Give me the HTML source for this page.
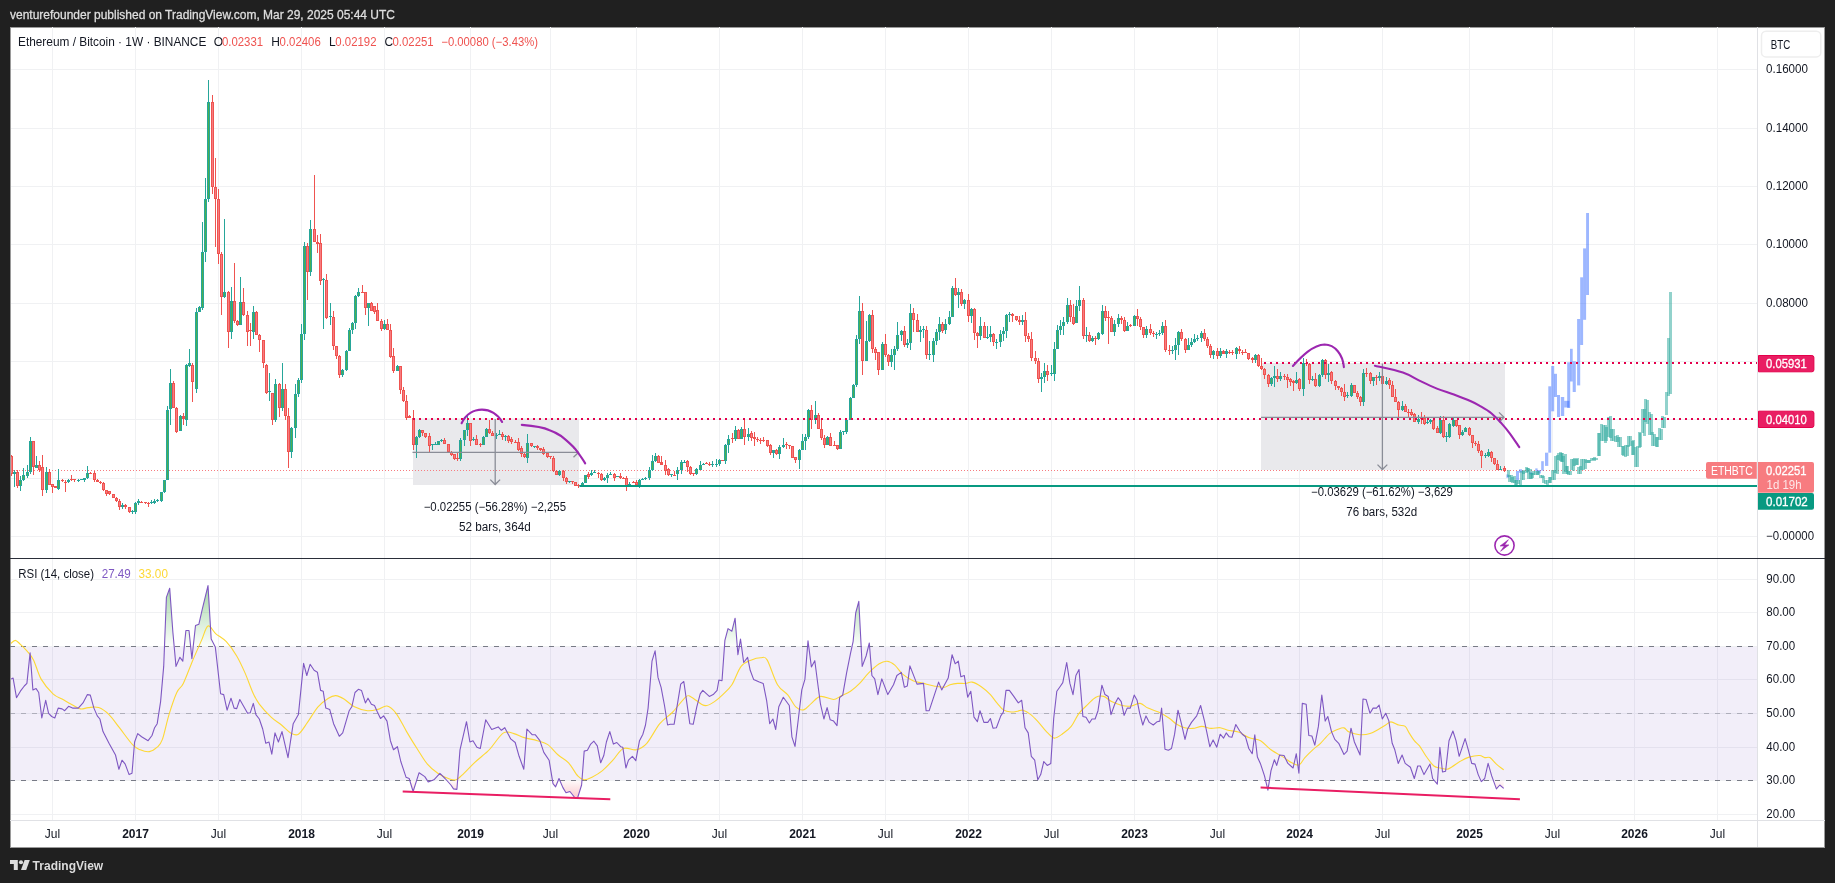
<!DOCTYPE html>
<html><head><meta charset="utf-8"><title>ETHBTC</title><style>
html,body{margin:0;padding:0;width:1835px;height:883px;overflow:hidden;background:#202020;font-family:"Liberation Sans",sans-serif;}
svg{position:absolute;left:0;top:0;display:block;will-change:transform;}
</style></head><body>
<svg width="1835" height="883" viewBox="0 0 1835 883" font-family="Liberation Sans, sans-serif" font-size="12">
<defs>
<linearGradient id="gOB" x1="0" y1="580" x2="0" y2="646.4" gradientUnits="userSpaceOnUse"><stop offset="0" stop-color="#4caf50" stop-opacity="0.55"/><stop offset="1" stop-color="#4caf50" stop-opacity="0.02"/></linearGradient>
<linearGradient id="gOS" x1="0" y1="780.2" x2="0" y2="800" gradientUnits="userSpaceOnUse"><stop offset="0" stop-color="#f23645" stop-opacity="0.02"/><stop offset="1" stop-color="#f23645" stop-opacity="0.3"/></linearGradient>
<clipPath id="cA"><rect x="10" y="560" width="1747" height="86.1"/></clipPath>
<clipPath id="cB"><rect x="10" y="780.5" width="1747" height="40"/></clipPath>
<clipPath id="cMain"><rect x="11" y="28" width="1746" height="530"/></clipPath>
<clipPath id="cRsi"><rect x="11" y="559" width="1746" height="261"/></clipPath>
</defs>
<text x="10" y="18.7" fill="#dedede" stroke="#dedede" stroke-width="0.3" font-size="12.5" textLength="385" lengthAdjust="spacingAndGlyphs">venturefounder published on TradingView.com, Mar 29, 2025 05:44 UTC</text>
<rect x="10" y="27" width="1815" height="821" fill="#9a9a9a"/><rect x="11" y="28" width="1813" height="819" fill="#ffffff"/>
<g stroke="#f0f1f3" stroke-width="1" shape-rendering="crispEdges">
<line x1="52.5" y1="27" x2="52.5" y2="558" />
<line x1="52.5" y1="559" x2="52.5" y2="820" />
<line x1="135.5" y1="27" x2="135.5" y2="558" />
<line x1="135.5" y1="559" x2="135.5" y2="820" />
<line x1="218.5" y1="27" x2="218.5" y2="558" />
<line x1="218.5" y1="559" x2="218.5" y2="820" />
<line x1="301.5" y1="27" x2="301.5" y2="558" />
<line x1="301.5" y1="559" x2="301.5" y2="820" />
<line x1="384.5" y1="27" x2="384.5" y2="558" />
<line x1="384.5" y1="559" x2="384.5" y2="820" />
<line x1="470.5" y1="27" x2="470.5" y2="558" />
<line x1="470.5" y1="559" x2="470.5" y2="820" />
<line x1="550.5" y1="27" x2="550.5" y2="558" />
<line x1="550.5" y1="559" x2="550.5" y2="820" />
<line x1="636.5" y1="27" x2="636.5" y2="558" />
<line x1="636.5" y1="559" x2="636.5" y2="820" />
<line x1="719.5" y1="27" x2="719.5" y2="558" />
<line x1="719.5" y1="559" x2="719.5" y2="820" />
<line x1="802.5" y1="27" x2="802.5" y2="558" />
<line x1="802.5" y1="559" x2="802.5" y2="820" />
<line x1="885.5" y1="27" x2="885.5" y2="558" />
<line x1="885.5" y1="559" x2="885.5" y2="820" />
<line x1="968.5" y1="27" x2="968.5" y2="558" />
<line x1="968.5" y1="559" x2="968.5" y2="820" />
<line x1="1051.5" y1="27" x2="1051.5" y2="558" />
<line x1="1051.5" y1="559" x2="1051.5" y2="820" />
<line x1="1134.5" y1="27" x2="1134.5" y2="558" />
<line x1="1134.5" y1="559" x2="1134.5" y2="820" />
<line x1="1217.5" y1="27" x2="1217.5" y2="558" />
<line x1="1217.5" y1="559" x2="1217.5" y2="820" />
<line x1="1299.5" y1="27" x2="1299.5" y2="558" />
<line x1="1299.5" y1="559" x2="1299.5" y2="820" />
<line x1="1382.5" y1="27" x2="1382.5" y2="558" />
<line x1="1382.5" y1="559" x2="1382.5" y2="820" />
<line x1="1469.5" y1="27" x2="1469.5" y2="558" />
<line x1="1469.5" y1="559" x2="1469.5" y2="820" />
<line x1="1552.5" y1="27" x2="1552.5" y2="558" />
<line x1="1552.5" y1="559" x2="1552.5" y2="820" />
<line x1="1634.5" y1="27" x2="1634.5" y2="558" />
<line x1="1634.5" y1="559" x2="1634.5" y2="820" />
<line x1="1717.5" y1="27" x2="1717.5" y2="558" />
<line x1="1717.5" y1="559" x2="1717.5" y2="820" />
<line x1="11" y1="536.5" x2="1757" y2="536.5" />
<line x1="11" y1="478.5" x2="1757" y2="478.5" />
<line x1="11" y1="419.5" x2="1757" y2="419.5" />
<line x1="11" y1="361.5" x2="1757" y2="361.5" />
<line x1="11" y1="303.5" x2="1757" y2="303.5" />
<line x1="11" y1="244.5" x2="1757" y2="244.5" />
<line x1="11" y1="186.5" x2="1757" y2="186.5" />
<line x1="11" y1="128.5" x2="1757" y2="128.5" />
<line x1="11" y1="69.5" x2="1757" y2="69.5" />
<line x1="11" y1="579.5" x2="1757" y2="579.5" />
<line x1="11" y1="612.5" x2="1757" y2="612.5" />
<line x1="11" y1="646.5" x2="1757" y2="646.5" />
<line x1="11" y1="679.5" x2="1757" y2="679.5" />
<line x1="11" y1="713.5" x2="1757" y2="713.5" />
<line x1="11" y1="747.5" x2="1757" y2="747.5" />
<line x1="11" y1="780.5" x2="1757" y2="780.5" />
<line x1="11" y1="814.5" x2="1757" y2="814.5" />
</g>
<!-- RSI band -->
<rect x="11" y="647" width="1746" height="133" fill="rgba(126,87,194,0.1)"/>
<g stroke="#787b86" stroke-width="1" stroke-dasharray="5 6" shape-rendering="crispEdges">
<line x1="10" y1="646.5" x2="1757" y2="646.5"/>
<line x1="10" y1="713.5" x2="1757" y2="713.5" stroke-opacity="0.5"/>
<line x1="10" y1="780.5" x2="1757" y2="780.5"/>
</g>
<g clip-path="url(#cRsi)">
<polygon points="10.0,646.4 10.0,679.4 13.1,678.1 16.5,697.7 20.4,691.2 24.3,686.0 26.9,683.4 30.1,652.9 32.9,689.9 36.1,688.6 38.7,692.5 41.8,718.0 45.7,700.3 48.6,713.3 51.7,716.5 54.8,718.0 58.2,708.1 62.1,708.9 64.7,710.7 68.6,706.3 72.5,708.1 78.3,708.1 83.0,702.9 87.4,694.6 90.3,695.1 93.9,708.1 97.3,715.9 99.9,719.0 103.0,731.6 109.0,743.3 115.5,755.0 118.9,769.3 122.0,760.2 125.2,764.1 129.1,774.6 132.0,773.3 134.6,742.0 137.7,733.6 141.6,736.8 148.1,740.7 152.0,735.5 154.6,727.7 157.2,723.7 160.6,701.6 163.7,666.4 166.4,597.4 169.7,588.2 172.9,632.5 176.0,666.4 179.9,657.3 182.8,661.2 185.9,630.5 189.0,630.5 191.9,658.6 195.5,625.5 198.9,624.2 202.3,609.1 208.0,585.6 211.2,639.1 215.3,646.9 220.6,693.8 223.7,694.6 227.1,710.2 231.0,698.2 234.1,708.1 236.7,708.6 239.8,699.5 243.2,705.5 247.6,713.3 250.2,712.8 253.3,703.4 255.9,714.6 259.3,719.0 262.7,729.0 265.8,743.3 269.0,742.0 271.8,754.2 275.0,732.9 278.4,742.0 282.0,731.6 288.0,757.6 293.2,723.7 298.4,714.6 303.6,663.3 306.8,675.5 310.1,664.3 314.1,670.3 317.4,672.2 320.6,690.4 323.2,691.2 325.8,708.1 329.7,709.4 333.6,723.7 339.3,736.3 342.7,732.9 349.2,710.7 351.8,706.8 355.0,692.5 358.4,689.3 361.5,690.4 365.4,702.9 368.0,698.2 371.4,704.2 374.5,705.5 377.4,712.0 380.5,718.5 383.6,715.9 387.0,721.1 390.4,740.7 393.5,749.8 397.4,746.7 400.8,761.5 406.0,777.2 409.2,778.5 413.1,791.5 419.1,772.7 424.8,776.6 428.2,781.9 433.9,779.8 439.9,773.3 445.1,778.5 450.9,785.0 453.5,788.9 456.9,789.4 460.0,749.8 466.5,721.7 469.9,742.0 473.0,740.7 476.9,747.2 480.3,748.5 485.7,719.8 491.7,729.5 498.2,726.9 501.4,730.3 504.8,727.7 510.7,738.9 515.2,742.5 519.1,756.3 523.8,769.3 526.9,729.0 532.1,734.7 535.2,734.7 539.9,740.7 543.8,752.4 549.1,760.2 553.0,783.7 555.6,786.8 559.0,778.5 562.9,787.6 566.0,792.8 569.9,791.5 575.1,798.0 577.7,797.5 581.6,785.0 584.2,751.1 587.4,750.3 590.7,744.1 593.9,741.2 597.3,745.9 600.7,762.8 603.8,755.5 606.4,742.0 609.8,731.6 613.4,744.1 616.8,742.5 620.7,746.7 622.8,747.2 625.9,768.0 628.5,760.2 632.4,756.3 635.8,760.7 639.5,740.7 642.9,734.2 645.5,725.0 648.1,708.1 652.0,661.2 655.1,650.8 658.0,677.4 661.1,687.3 664.5,705.5 667.6,725.0 670.2,724.3 674.1,724.3 680.7,684.1 683.8,681.5 689.8,723.7 693.2,724.3 696.8,706.8 700.2,693.8 702.8,690.4 709.3,696.4 713.2,694.6 717.1,690.4 718.9,680.0 722.0,680.7 724.9,640.4 728.0,628.6 731.9,631.2 735.1,618.2 737.9,654.7 740.5,639.1 743.7,662.5 747.6,657.3 750.2,670.3 753.6,679.4 759.3,682.1 763.2,683.4 766.6,700.3 769.7,723.7 772.9,719.0 775.7,729.5 778.8,706.8 783.3,697.2 789.3,705.5 791.9,736.8 795.0,746.4 798.4,718.5 801.8,689.9 804.9,679.4 808.0,640.9 811.4,666.9 814.8,660.7 817.9,684.7 820.5,704.2 823.9,719.0 827.1,707.6 830.2,719.8 833.6,721.1 837.0,725.6 839.6,697.7 842.7,695.1 846.6,672.9 850.5,653.4 853.1,641.7 855.7,613.0 858.8,601.3 862.2,666.4 866.1,656.0 869.3,643.0 871.9,675.5 874.7,678.9 877.9,694.6 881.8,678.9 887.8,694.6 893.5,684.7 896.9,675.5 901.3,672.4 904.4,687.3 907.3,686.0 909.9,665.9 917.0,684.1 923.5,683.4 926.1,710.7 929.2,710.7 933.9,696.4 938.6,682.1 941.7,689.9 948.2,678.1 952.1,654.7 955.2,663.8 958.3,661.2 960.9,676.8 964.3,675.5 967.7,697.2 970.8,691.2 974.0,717.2 977.4,721.7 980.0,710.7 983.9,722.4 987.8,722.4 990.4,718.5 993.0,728.2 996.4,727.7 1000.8,715.9 1003.4,712.0 1006.0,690.4 1009.4,690.4 1013.8,696.4 1018.3,702.9 1021.7,700.3 1025.0,727.7 1028.2,732.9 1031.3,756.3 1034.7,760.2 1037.8,779.8 1040.7,774.6 1043.8,761.5 1047.2,765.4 1050.8,763.4 1053.7,718.5 1056.8,691.2 1060.0,686.7 1062.8,682.6 1066.7,662.5 1069.9,683.4 1073.0,694.6 1075.9,675.5 1079.0,669.5 1082.9,716.5 1086.0,717.2 1089.4,723.0 1092.0,719.0 1095.1,719.0 1098.0,710.7 1101.9,685.2 1105.0,694.6 1108.2,696.4 1111.0,714.6 1114.7,704.2 1118.1,697.7 1121.2,701.6 1124.1,715.4 1127.2,708.1 1130.3,708.1 1134.2,695.1 1137.1,700.3 1139.7,713.3 1142.8,725.0 1146.0,715.9 1149.3,722.4 1153.3,725.0 1157.2,721.7 1159.8,721.1 1161.6,708.1 1165.0,749.3 1168.4,750.3 1171.5,748.5 1174.6,734.2 1178.0,710.2 1181.4,723.7 1185.0,739.4 1187.6,729.0 1191.5,722.4 1196.7,715.9 1200.6,705.5 1204.5,721.1 1209.8,746.7 1213.1,739.9 1216.8,747.2 1220.2,734.2 1223.6,738.1 1226.2,732.9 1229.3,736.8 1231.9,737.3 1235.8,724.5 1239.7,731.0 1242.3,734.2 1245.5,736.8 1248.8,748.5 1252.2,753.7 1254.8,734.7 1257.4,757.1 1260.6,764.1 1264.5,775.9 1267.9,790.2 1271.0,770.6 1274.4,759.7 1276.7,765.4 1279.6,755.0 1284.0,755.5 1287.9,763.4 1293.1,768.0 1296.3,753.7 1298.9,773.3 1302.3,703.4 1306.2,704.2 1308.8,735.5 1311.9,736.0 1314.8,745.1 1318.4,726.4 1321.8,695.1 1325.2,721.1 1327.8,716.5 1331.5,731.6 1334.8,739.4 1338.7,743.3 1344.0,754.5 1347.1,751.1 1351.0,728.2 1354.4,742.0 1360.1,755.0 1363.0,699.0 1366.1,699.5 1370.0,713.3 1373.1,708.1 1376.5,708.1 1379.1,705.0 1382.3,719.0 1385.7,713.3 1388.8,720.6 1392.2,743.3 1394.8,749.8 1398.2,763.4 1402.1,755.0 1405.2,763.4 1410.4,767.3 1414.3,778.5 1417.7,766.0 1420.3,766.0 1424.0,774.6 1430.0,764.1 1432.6,778.5 1437.3,784.2 1439.9,747.2 1442.5,772.0 1445.6,771.2 1449.0,740.7 1452.9,731.0 1456.0,740.7 1459.2,756.3 1465.1,738.6 1468.3,749.8 1471.7,763.4 1475.0,764.1 1478.2,774.6 1481.3,781.6 1484.7,778.5 1488.1,763.4 1491.7,775.9 1496.4,788.9 1499.8,785.0 1503.7,788.4 1503.7,646.4" fill="url(#gOB)" clip-path="url(#cA)"/>
<polygon points="10.0,646.4 10.0,679.4 13.1,678.1 16.5,697.7 20.4,691.2 24.3,686.0 26.9,683.4 30.1,652.9 32.9,689.9 36.1,688.6 38.7,692.5 41.8,718.0 45.7,700.3 48.6,713.3 51.7,716.5 54.8,718.0 58.2,708.1 62.1,708.9 64.7,710.7 68.6,706.3 72.5,708.1 78.3,708.1 83.0,702.9 87.4,694.6 90.3,695.1 93.9,708.1 97.3,715.9 99.9,719.0 103.0,731.6 109.0,743.3 115.5,755.0 118.9,769.3 122.0,760.2 125.2,764.1 129.1,774.6 132.0,773.3 134.6,742.0 137.7,733.6 141.6,736.8 148.1,740.7 152.0,735.5 154.6,727.7 157.2,723.7 160.6,701.6 163.7,666.4 166.4,597.4 169.7,588.2 172.9,632.5 176.0,666.4 179.9,657.3 182.8,661.2 185.9,630.5 189.0,630.5 191.9,658.6 195.5,625.5 198.9,624.2 202.3,609.1 208.0,585.6 211.2,639.1 215.3,646.9 220.6,693.8 223.7,694.6 227.1,710.2 231.0,698.2 234.1,708.1 236.7,708.6 239.8,699.5 243.2,705.5 247.6,713.3 250.2,712.8 253.3,703.4 255.9,714.6 259.3,719.0 262.7,729.0 265.8,743.3 269.0,742.0 271.8,754.2 275.0,732.9 278.4,742.0 282.0,731.6 288.0,757.6 293.2,723.7 298.4,714.6 303.6,663.3 306.8,675.5 310.1,664.3 314.1,670.3 317.4,672.2 320.6,690.4 323.2,691.2 325.8,708.1 329.7,709.4 333.6,723.7 339.3,736.3 342.7,732.9 349.2,710.7 351.8,706.8 355.0,692.5 358.4,689.3 361.5,690.4 365.4,702.9 368.0,698.2 371.4,704.2 374.5,705.5 377.4,712.0 380.5,718.5 383.6,715.9 387.0,721.1 390.4,740.7 393.5,749.8 397.4,746.7 400.8,761.5 406.0,777.2 409.2,778.5 413.1,791.5 419.1,772.7 424.8,776.6 428.2,781.9 433.9,779.8 439.9,773.3 445.1,778.5 450.9,785.0 453.5,788.9 456.9,789.4 460.0,749.8 466.5,721.7 469.9,742.0 473.0,740.7 476.9,747.2 480.3,748.5 485.7,719.8 491.7,729.5 498.2,726.9 501.4,730.3 504.8,727.7 510.7,738.9 515.2,742.5 519.1,756.3 523.8,769.3 526.9,729.0 532.1,734.7 535.2,734.7 539.9,740.7 543.8,752.4 549.1,760.2 553.0,783.7 555.6,786.8 559.0,778.5 562.9,787.6 566.0,792.8 569.9,791.5 575.1,798.0 577.7,797.5 581.6,785.0 584.2,751.1 587.4,750.3 590.7,744.1 593.9,741.2 597.3,745.9 600.7,762.8 603.8,755.5 606.4,742.0 609.8,731.6 613.4,744.1 616.8,742.5 620.7,746.7 622.8,747.2 625.9,768.0 628.5,760.2 632.4,756.3 635.8,760.7 639.5,740.7 642.9,734.2 645.5,725.0 648.1,708.1 652.0,661.2 655.1,650.8 658.0,677.4 661.1,687.3 664.5,705.5 667.6,725.0 670.2,724.3 674.1,724.3 680.7,684.1 683.8,681.5 689.8,723.7 693.2,724.3 696.8,706.8 700.2,693.8 702.8,690.4 709.3,696.4 713.2,694.6 717.1,690.4 718.9,680.0 722.0,680.7 724.9,640.4 728.0,628.6 731.9,631.2 735.1,618.2 737.9,654.7 740.5,639.1 743.7,662.5 747.6,657.3 750.2,670.3 753.6,679.4 759.3,682.1 763.2,683.4 766.6,700.3 769.7,723.7 772.9,719.0 775.7,729.5 778.8,706.8 783.3,697.2 789.3,705.5 791.9,736.8 795.0,746.4 798.4,718.5 801.8,689.9 804.9,679.4 808.0,640.9 811.4,666.9 814.8,660.7 817.9,684.7 820.5,704.2 823.9,719.0 827.1,707.6 830.2,719.8 833.6,721.1 837.0,725.6 839.6,697.7 842.7,695.1 846.6,672.9 850.5,653.4 853.1,641.7 855.7,613.0 858.8,601.3 862.2,666.4 866.1,656.0 869.3,643.0 871.9,675.5 874.7,678.9 877.9,694.6 881.8,678.9 887.8,694.6 893.5,684.7 896.9,675.5 901.3,672.4 904.4,687.3 907.3,686.0 909.9,665.9 917.0,684.1 923.5,683.4 926.1,710.7 929.2,710.7 933.9,696.4 938.6,682.1 941.7,689.9 948.2,678.1 952.1,654.7 955.2,663.8 958.3,661.2 960.9,676.8 964.3,675.5 967.7,697.2 970.8,691.2 974.0,717.2 977.4,721.7 980.0,710.7 983.9,722.4 987.8,722.4 990.4,718.5 993.0,728.2 996.4,727.7 1000.8,715.9 1003.4,712.0 1006.0,690.4 1009.4,690.4 1013.8,696.4 1018.3,702.9 1021.7,700.3 1025.0,727.7 1028.2,732.9 1031.3,756.3 1034.7,760.2 1037.8,779.8 1040.7,774.6 1043.8,761.5 1047.2,765.4 1050.8,763.4 1053.7,718.5 1056.8,691.2 1060.0,686.7 1062.8,682.6 1066.7,662.5 1069.9,683.4 1073.0,694.6 1075.9,675.5 1079.0,669.5 1082.9,716.5 1086.0,717.2 1089.4,723.0 1092.0,719.0 1095.1,719.0 1098.0,710.7 1101.9,685.2 1105.0,694.6 1108.2,696.4 1111.0,714.6 1114.7,704.2 1118.1,697.7 1121.2,701.6 1124.1,715.4 1127.2,708.1 1130.3,708.1 1134.2,695.1 1137.1,700.3 1139.7,713.3 1142.8,725.0 1146.0,715.9 1149.3,722.4 1153.3,725.0 1157.2,721.7 1159.8,721.1 1161.6,708.1 1165.0,749.3 1168.4,750.3 1171.5,748.5 1174.6,734.2 1178.0,710.2 1181.4,723.7 1185.0,739.4 1187.6,729.0 1191.5,722.4 1196.7,715.9 1200.6,705.5 1204.5,721.1 1209.8,746.7 1213.1,739.9 1216.8,747.2 1220.2,734.2 1223.6,738.1 1226.2,732.9 1229.3,736.8 1231.9,737.3 1235.8,724.5 1239.7,731.0 1242.3,734.2 1245.5,736.8 1248.8,748.5 1252.2,753.7 1254.8,734.7 1257.4,757.1 1260.6,764.1 1264.5,775.9 1267.9,790.2 1271.0,770.6 1274.4,759.7 1276.7,765.4 1279.6,755.0 1284.0,755.5 1287.9,763.4 1293.1,768.0 1296.3,753.7 1298.9,773.3 1302.3,703.4 1306.2,704.2 1308.8,735.5 1311.9,736.0 1314.8,745.1 1318.4,726.4 1321.8,695.1 1325.2,721.1 1327.8,716.5 1331.5,731.6 1334.8,739.4 1338.7,743.3 1344.0,754.5 1347.1,751.1 1351.0,728.2 1354.4,742.0 1360.1,755.0 1363.0,699.0 1366.1,699.5 1370.0,713.3 1373.1,708.1 1376.5,708.1 1379.1,705.0 1382.3,719.0 1385.7,713.3 1388.8,720.6 1392.2,743.3 1394.8,749.8 1398.2,763.4 1402.1,755.0 1405.2,763.4 1410.4,767.3 1414.3,778.5 1417.7,766.0 1420.3,766.0 1424.0,774.6 1430.0,764.1 1432.6,778.5 1437.3,784.2 1439.9,747.2 1442.5,772.0 1445.6,771.2 1449.0,740.7 1452.9,731.0 1456.0,740.7 1459.2,756.3 1465.1,738.6 1468.3,749.8 1471.7,763.4 1475.0,764.1 1478.2,774.6 1481.3,781.6 1484.7,778.5 1488.1,763.4 1491.7,775.9 1496.4,788.9 1499.8,785.0 1503.7,788.4 1503.7,646.4" fill="url(#gOS)" clip-path="url(#cB)"/>
<path d="M10.0,644.3 C10.9,643.6 13.5,640.4 15.2,640.4 C16.9,640.4 18.4,642.6 20.4,644.3 C22.3,646.0 24.7,648.2 26.9,650.8 C29.1,653.4 31.1,655.1 33.5,659.9 C35.9,664.7 38.0,673.8 41.3,679.4 C44.5,685.0 49.5,690.5 53.0,693.8 C56.5,697.1 59.1,697.3 62.1,699.0 C65.1,700.7 68.2,702.6 71.2,704.2 C74.2,705.9 77.6,708.3 80.4,708.9 C83.2,709.5 85.2,707.8 88.2,707.6 C91.2,707.4 95.1,706.4 98.6,707.6 C102.1,708.8 105.5,711.2 109.0,714.6 C112.5,718.0 115.5,722.7 119.4,727.7 C123.3,732.7 129.0,740.9 132.5,744.6 C136.0,748.3 137.5,748.6 140.3,749.8 C143.1,751.0 146.6,752.0 149.4,751.6 C152.2,751.2 155.0,749.2 157.2,747.2 C159.4,745.2 160.4,744.8 162.4,739.4 C164.4,734.0 166.6,722.4 169.0,714.6 C171.4,706.8 174.4,697.7 176.8,692.5 C179.2,687.3 180.7,688.6 183.3,683.4 C185.9,678.2 189.4,668.4 192.4,661.2 C195.4,654.0 198.9,646.3 201.5,640.4 C204.1,634.5 205.6,627.1 208.0,626.0 C210.4,624.9 212.8,631.2 215.9,633.8 C219.0,636.4 222.8,638.0 226.3,641.7 C229.8,645.4 233.6,650.8 236.7,656.0 C239.8,661.2 242.3,666.8 245.0,672.9 C247.7,679.0 250.4,687.3 252.8,692.5 C255.2,697.7 256.2,700.1 259.3,704.2 C262.4,708.3 267.4,713.7 271.1,717.2 C274.8,720.7 278.2,722.4 281.5,725.0 C284.8,727.6 287.8,731.4 290.6,732.9 C293.4,734.4 295.6,736.0 298.4,734.2 C301.2,732.5 304.2,727.0 307.5,722.4 C310.8,717.8 314.5,710.8 318.0,706.8 C321.5,702.8 325.4,700.1 328.4,698.2 C331.3,696.3 333.1,695.5 335.7,695.6 C338.3,695.7 340.9,697.1 344.0,699.0 C347.1,700.9 350.5,704.8 354.4,706.8 C358.3,708.8 363.6,710.3 367.5,710.7 C371.4,711.1 374.6,710.2 377.9,709.4 C381.1,708.6 384.0,705.4 387.0,706.0 C390.0,706.6 392.8,709.0 396.1,713.3 C399.4,717.6 403.1,725.7 406.6,731.6 C410.1,737.5 413.5,743.1 417.0,748.5 C420.5,753.9 423.9,760.0 427.4,764.1 C430.9,768.2 434.3,770.9 437.8,773.3 C441.3,775.7 445.2,777.4 448.3,778.5 C451.4,779.6 453.5,780.7 456.1,779.8 C458.7,778.9 460.9,776.1 463.9,773.3 C466.9,770.5 470.8,766.1 474.3,762.8 C477.8,759.5 482.3,756.1 485.0,753.7 C487.7,751.3 487.3,752.0 490.4,748.5 C493.5,745.0 499.6,735.4 503.5,732.9 C507.4,730.4 510.4,732.8 513.9,733.6 C517.4,734.4 520.4,736.4 524.3,737.6 C528.2,738.8 533.4,739.5 537.3,740.7 C541.2,741.9 544.3,742.2 547.8,744.6 C551.3,747.0 554.7,752.0 558.2,755.0 C561.7,758.0 565.4,759.3 568.6,762.8 C571.9,766.3 575.1,773.1 577.7,775.9 C580.3,778.7 581.8,779.6 584.2,779.8 C586.6,780.0 589.0,778.7 592.0,777.2 C595.0,775.7 599.0,773.4 602.5,770.6 C606.0,767.8 609.4,763.9 612.9,760.2 C616.4,756.5 619.4,750.2 623.3,748.5 C627.2,746.8 632.5,750.7 636.4,749.8 C640.3,748.9 642.9,747.6 646.8,743.3 C650.7,738.9 655.5,728.9 659.8,723.7 C664.1,718.5 668.4,716.5 672.8,712.0 C677.1,707.5 682.8,699.4 685.9,696.9 C689.0,694.4 688.5,695.7 691.1,696.9 C693.7,698.1 698.9,702.8 701.5,704.2 C704.1,705.6 704.5,705.9 706.7,705.5 C708.9,705.1 711.8,703.4 714.5,701.6 C717.2,699.8 719.9,697.4 722.8,694.6 C725.7,691.8 728.8,689.4 731.9,684.7 C735.0,680.0 737.8,670.5 741.1,666.4 C744.4,662.3 748.2,661.3 751.5,659.9 C754.8,658.5 758.0,657.8 760.6,657.8 C763.2,657.8 764.3,655.4 767.1,659.9 C769.9,664.4 774.0,678.8 777.5,684.7 C781.0,690.6 785.0,691.4 788.0,695.1 C791.0,698.8 793.2,704.3 795.8,706.8 C798.4,709.3 801.0,710.5 803.6,709.9 C806.2,709.3 808.6,705.6 811.4,703.4 C814.2,701.1 816.8,697.0 820.5,696.4 C824.2,695.8 830.3,699.5 833.6,699.5 C836.9,699.5 837.3,697.8 840.1,696.4 C842.9,695.0 847.2,693.4 850.5,691.2 C853.8,689.0 856.6,686.5 859.6,683.4 C862.6,680.3 865.4,676.2 868.7,672.9 C872.0,669.6 876.2,665.8 879.2,663.8 C882.2,661.8 884.4,661.0 887.0,661.2 C889.6,661.4 892.2,662.9 894.8,665.1 C897.4,667.3 899.6,671.6 902.6,674.2 C905.6,676.8 909.5,679.2 913.0,680.7 C916.5,682.2 920.0,682.5 923.5,683.4 C927.0,684.3 930.4,685.4 933.9,686.0 C937.4,686.6 941.6,687.5 944.3,687.3 C947.0,687.1 947.8,685.4 950.0,684.7 C952.2,684.1 955.2,683.6 957.8,683.4 C960.4,683.2 963.2,683.6 965.6,683.4 C968.0,683.2 969.5,681.5 972.1,682.1 C974.7,682.7 978.2,684.6 981.3,686.7 C984.3,688.8 987.8,691.9 990.4,694.6 C993.0,697.3 994.7,700.4 996.9,702.9 C999.1,705.4 1001.0,708.4 1003.4,709.9 C1005.8,711.4 1008.8,711.8 1011.2,712.0 C1013.6,712.2 1015.8,711.5 1017.8,711.2 C1019.8,710.9 1020.8,709.6 1023.0,710.2 C1025.2,710.8 1028.2,712.6 1030.8,714.6 C1033.4,716.6 1035.8,719.4 1038.6,722.4 C1041.4,725.4 1045.1,730.3 1047.7,732.9 C1050.3,735.5 1051.8,737.9 1054.2,738.1 C1056.6,738.3 1059.3,736.2 1062.1,734.2 C1064.9,732.2 1068.4,729.9 1071.2,726.4 C1074.0,722.9 1076.2,717.0 1079.0,713.3 C1081.8,709.6 1085.3,706.9 1088.1,704.2 C1090.9,701.5 1093.3,698.5 1095.9,697.2 C1098.5,695.9 1101.1,695.7 1103.7,696.4 C1106.3,697.1 1108.5,700.1 1111.6,701.6 C1114.6,703.1 1118.8,704.8 1122.0,705.5 C1125.2,706.2 1128.1,706.4 1131.1,706.0 C1134.1,705.6 1137.4,703.0 1140.2,703.4 C1143.0,703.8 1145.0,706.7 1148.0,708.1 C1151.0,709.5 1155.0,710.4 1158.5,712.0 C1162.0,713.6 1165.9,716.0 1168.9,718.0 C1171.9,720.0 1174.1,722.7 1176.7,724.3 C1179.3,725.9 1181.8,727.0 1184.5,727.7 C1187.2,728.4 1189.9,728.6 1192.8,728.4 C1195.7,728.2 1198.9,726.4 1201.9,726.4 C1205.0,726.4 1208.0,728.2 1211.1,728.4 C1214.1,728.6 1217.4,727.4 1220.2,727.7 C1223.0,728.0 1225.0,729.6 1228.0,730.3 C1231.0,731.0 1234.7,730.8 1238.4,732.1 C1242.1,733.4 1246.4,736.7 1250.1,738.1 C1253.8,739.5 1257.1,738.8 1260.6,740.7 C1264.1,742.7 1267.1,747.0 1271.0,749.8 C1274.9,752.6 1280.5,755.4 1284.0,757.6 C1287.5,759.8 1289.3,761.6 1291.8,762.8 C1294.3,764.0 1296.9,765.8 1299.1,764.9 C1301.3,764.0 1302.6,760.1 1304.9,757.6 C1307.2,755.1 1310.1,752.2 1312.7,749.8 C1315.3,747.4 1317.7,746.0 1320.5,743.3 C1323.3,740.6 1326.6,736.0 1329.6,733.6 C1332.6,731.2 1336.3,730.0 1338.7,729.0 C1341.1,728.0 1342.2,727.4 1344.0,727.9 C1345.8,728.4 1346.6,731.0 1349.2,732.1 C1351.8,733.2 1356.1,734.5 1359.6,734.7 C1363.1,735.0 1366.8,734.6 1370.0,733.6 C1373.2,732.6 1376.5,730.4 1379.1,729.0 C1381.7,727.6 1383.7,726.2 1385.7,725.0 C1387.7,723.8 1388.7,721.9 1390.9,721.9 C1393.1,721.9 1396.3,724.2 1398.7,725.0 C1401.1,725.8 1403.5,725.1 1405.2,726.4 C1406.9,727.7 1407.6,730.5 1409.1,732.9 C1410.6,735.3 1412.6,738.5 1414.3,740.7 C1416.0,742.9 1417.5,743.3 1419.5,745.9 C1421.5,748.5 1423.7,752.9 1426.1,756.3 C1428.5,759.6 1431.5,764.0 1433.9,766.0 C1436.3,768.0 1438.2,767.5 1440.4,768.0 C1442.6,768.5 1445.0,769.5 1446.9,769.3 C1448.9,769.1 1449.9,768.0 1452.1,766.7 C1454.3,765.4 1457.1,763.1 1459.9,761.5 C1462.7,759.9 1465.8,758.1 1469.1,757.1 C1472.4,756.1 1476.9,755.4 1479.5,755.5 C1482.1,755.6 1483.0,757.2 1484.7,757.6 C1486.4,758.0 1488.0,756.5 1489.9,757.6 C1491.9,758.7 1494.1,762.1 1496.4,764.1 C1498.7,766.1 1502.5,768.9 1503.7,769.9" fill="none" stroke="#fdd835" stroke-width="1.1"/>
<polyline points="10.0,679.4 13.1,678.1 16.5,697.7 20.4,691.2 24.3,686.0 26.9,683.4 30.1,652.9 32.9,689.9 36.1,688.6 38.7,692.5 41.8,718.0 45.7,700.3 48.6,713.3 51.7,716.5 54.8,718.0 58.2,708.1 62.1,708.9 64.7,710.7 68.6,706.3 72.5,708.1 78.3,708.1 83.0,702.9 87.4,694.6 90.3,695.1 93.9,708.1 97.3,715.9 99.9,719.0 103.0,731.6 109.0,743.3 115.5,755.0 118.9,769.3 122.0,760.2 125.2,764.1 129.1,774.6 132.0,773.3 134.6,742.0 137.7,733.6 141.6,736.8 148.1,740.7 152.0,735.5 154.6,727.7 157.2,723.7 160.6,701.6 163.7,666.4 166.4,597.4 169.7,588.2 172.9,632.5 176.0,666.4 179.9,657.3 182.8,661.2 185.9,630.5 189.0,630.5 191.9,658.6 195.5,625.5 198.9,624.2 202.3,609.1 208.0,585.6 211.2,639.1 215.3,646.9 220.6,693.8 223.7,694.6 227.1,710.2 231.0,698.2 234.1,708.1 236.7,708.6 239.8,699.5 243.2,705.5 247.6,713.3 250.2,712.8 253.3,703.4 255.9,714.6 259.3,719.0 262.7,729.0 265.8,743.3 269.0,742.0 271.8,754.2 275.0,732.9 278.4,742.0 282.0,731.6 288.0,757.6 293.2,723.7 298.4,714.6 303.6,663.3 306.8,675.5 310.1,664.3 314.1,670.3 317.4,672.2 320.6,690.4 323.2,691.2 325.8,708.1 329.7,709.4 333.6,723.7 339.3,736.3 342.7,732.9 349.2,710.7 351.8,706.8 355.0,692.5 358.4,689.3 361.5,690.4 365.4,702.9 368.0,698.2 371.4,704.2 374.5,705.5 377.4,712.0 380.5,718.5 383.6,715.9 387.0,721.1 390.4,740.7 393.5,749.8 397.4,746.7 400.8,761.5 406.0,777.2 409.2,778.5 413.1,791.5 419.1,772.7 424.8,776.6 428.2,781.9 433.9,779.8 439.9,773.3 445.1,778.5 450.9,785.0 453.5,788.9 456.9,789.4 460.0,749.8 466.5,721.7 469.9,742.0 473.0,740.7 476.9,747.2 480.3,748.5 485.7,719.8 491.7,729.5 498.2,726.9 501.4,730.3 504.8,727.7 510.7,738.9 515.2,742.5 519.1,756.3 523.8,769.3 526.9,729.0 532.1,734.7 535.2,734.7 539.9,740.7 543.8,752.4 549.1,760.2 553.0,783.7 555.6,786.8 559.0,778.5 562.9,787.6 566.0,792.8 569.9,791.5 575.1,798.0 577.7,797.5 581.6,785.0 584.2,751.1 587.4,750.3 590.7,744.1 593.9,741.2 597.3,745.9 600.7,762.8 603.8,755.5 606.4,742.0 609.8,731.6 613.4,744.1 616.8,742.5 620.7,746.7 622.8,747.2 625.9,768.0 628.5,760.2 632.4,756.3 635.8,760.7 639.5,740.7 642.9,734.2 645.5,725.0 648.1,708.1 652.0,661.2 655.1,650.8 658.0,677.4 661.1,687.3 664.5,705.5 667.6,725.0 670.2,724.3 674.1,724.3 680.7,684.1 683.8,681.5 689.8,723.7 693.2,724.3 696.8,706.8 700.2,693.8 702.8,690.4 709.3,696.4 713.2,694.6 717.1,690.4 718.9,680.0 722.0,680.7 724.9,640.4 728.0,628.6 731.9,631.2 735.1,618.2 737.9,654.7 740.5,639.1 743.7,662.5 747.6,657.3 750.2,670.3 753.6,679.4 759.3,682.1 763.2,683.4 766.6,700.3 769.7,723.7 772.9,719.0 775.7,729.5 778.8,706.8 783.3,697.2 789.3,705.5 791.9,736.8 795.0,746.4 798.4,718.5 801.8,689.9 804.9,679.4 808.0,640.9 811.4,666.9 814.8,660.7 817.9,684.7 820.5,704.2 823.9,719.0 827.1,707.6 830.2,719.8 833.6,721.1 837.0,725.6 839.6,697.7 842.7,695.1 846.6,672.9 850.5,653.4 853.1,641.7 855.7,613.0 858.8,601.3 862.2,666.4 866.1,656.0 869.3,643.0 871.9,675.5 874.7,678.9 877.9,694.6 881.8,678.9 887.8,694.6 893.5,684.7 896.9,675.5 901.3,672.4 904.4,687.3 907.3,686.0 909.9,665.9 917.0,684.1 923.5,683.4 926.1,710.7 929.2,710.7 933.9,696.4 938.6,682.1 941.7,689.9 948.2,678.1 952.1,654.7 955.2,663.8 958.3,661.2 960.9,676.8 964.3,675.5 967.7,697.2 970.8,691.2 974.0,717.2 977.4,721.7 980.0,710.7 983.9,722.4 987.8,722.4 990.4,718.5 993.0,728.2 996.4,727.7 1000.8,715.9 1003.4,712.0 1006.0,690.4 1009.4,690.4 1013.8,696.4 1018.3,702.9 1021.7,700.3 1025.0,727.7 1028.2,732.9 1031.3,756.3 1034.7,760.2 1037.8,779.8 1040.7,774.6 1043.8,761.5 1047.2,765.4 1050.8,763.4 1053.7,718.5 1056.8,691.2 1060.0,686.7 1062.8,682.6 1066.7,662.5 1069.9,683.4 1073.0,694.6 1075.9,675.5 1079.0,669.5 1082.9,716.5 1086.0,717.2 1089.4,723.0 1092.0,719.0 1095.1,719.0 1098.0,710.7 1101.9,685.2 1105.0,694.6 1108.2,696.4 1111.0,714.6 1114.7,704.2 1118.1,697.7 1121.2,701.6 1124.1,715.4 1127.2,708.1 1130.3,708.1 1134.2,695.1 1137.1,700.3 1139.7,713.3 1142.8,725.0 1146.0,715.9 1149.3,722.4 1153.3,725.0 1157.2,721.7 1159.8,721.1 1161.6,708.1 1165.0,749.3 1168.4,750.3 1171.5,748.5 1174.6,734.2 1178.0,710.2 1181.4,723.7 1185.0,739.4 1187.6,729.0 1191.5,722.4 1196.7,715.9 1200.6,705.5 1204.5,721.1 1209.8,746.7 1213.1,739.9 1216.8,747.2 1220.2,734.2 1223.6,738.1 1226.2,732.9 1229.3,736.8 1231.9,737.3 1235.8,724.5 1239.7,731.0 1242.3,734.2 1245.5,736.8 1248.8,748.5 1252.2,753.7 1254.8,734.7 1257.4,757.1 1260.6,764.1 1264.5,775.9 1267.9,790.2 1271.0,770.6 1274.4,759.7 1276.7,765.4 1279.6,755.0 1284.0,755.5 1287.9,763.4 1293.1,768.0 1296.3,753.7 1298.9,773.3 1302.3,703.4 1306.2,704.2 1308.8,735.5 1311.9,736.0 1314.8,745.1 1318.4,726.4 1321.8,695.1 1325.2,721.1 1327.8,716.5 1331.5,731.6 1334.8,739.4 1338.7,743.3 1344.0,754.5 1347.1,751.1 1351.0,728.2 1354.4,742.0 1360.1,755.0 1363.0,699.0 1366.1,699.5 1370.0,713.3 1373.1,708.1 1376.5,708.1 1379.1,705.0 1382.3,719.0 1385.7,713.3 1388.8,720.6 1392.2,743.3 1394.8,749.8 1398.2,763.4 1402.1,755.0 1405.2,763.4 1410.4,767.3 1414.3,778.5 1417.7,766.0 1420.3,766.0 1424.0,774.6 1430.0,764.1 1432.6,778.5 1437.3,784.2 1439.9,747.2 1442.5,772.0 1445.6,771.2 1449.0,740.7 1452.9,731.0 1456.0,740.7 1459.2,756.3 1465.1,738.6 1468.3,749.8 1471.7,763.4 1475.0,764.1 1478.2,774.6 1481.3,781.6 1484.7,778.5 1488.1,763.4 1491.7,775.9 1496.4,788.9 1499.8,785.0 1503.7,788.4" fill="none" stroke="#7e57c2" stroke-width="1.1" stroke-linejoin="round"/>
<line x1="402.7" y1="791.5" x2="610.3" y2="799.3" stroke="#e91e63" stroke-width="2"/>
<line x1="1260.6" y1="787.6" x2="1519.9" y2="799.3" stroke="#e91e63" stroke-width="2"/>
</g>
<!-- main pane -->
<g clip-path="url(#cMain)">
<rect x="413" y="418.5" width="166" height="66.5" fill="#e9e9ec"/>
<rect x="1261" y="363" width="244" height="107" fill="#e9e9ec"/>
<line x1="10" y1="470.5" x2="1706" y2="470.5" stroke="#f77c80" stroke-width="1" stroke-dasharray="1 2"/>
<g shape-rendering="crispEdges">
<rect x="1504.00" y="466.20" width="1.00" height="5.60" fill="#ef5350"/>
<rect x="1503.00" y="468.00" width="3.00" height="2.80" fill="#ef5350"/>
<rect x="1504.00" y="469.00" width="1.00" height="0.80" fill="#f77c80"/>
<rect x="1500.00" y="465.60" width="1.00" height="4.82" fill="#26a69a"/>
<rect x="1499.00" y="469.00" width="3.00" height="1.00" fill="#26a69a"/>
<rect x="1497.00" y="460.20" width="1.00" height="9.95" fill="#ef5350"/>
<rect x="1496.00" y="463.80" width="3.00" height="6.10" fill="#ef5350"/>
<rect x="1497.00" y="464.80" width="1.00" height="4.10" fill="#f77c80"/>
<rect x="1494.00" y="457.50" width="1.00" height="7.87" fill="#ef5350"/>
<rect x="1493.00" y="458.30" width="3.00" height="5.50" fill="#ef5350"/>
<rect x="1494.00" y="459.30" width="1.00" height="3.50" fill="#f77c80"/>
<rect x="1491.00" y="451.38" width="1.00" height="10.42" fill="#ef5350"/>
<rect x="1490.00" y="451.50" width="3.00" height="6.80" fill="#ef5350"/>
<rect x="1491.00" y="452.50" width="1.00" height="4.80" fill="#f77c80"/>
<rect x="1488.00" y="449.40" width="1.00" height="7.29" fill="#26a69a"/>
<rect x="1487.00" y="451.50" width="3.00" height="4.10" fill="#26a69a"/>
<rect x="1488.00" y="452.50" width="1.00" height="2.10" fill="#4caf50"/>
<rect x="1485.00" y="453.20" width="1.00" height="4.30" fill="#26a69a"/>
<rect x="1484.00" y="455.00" width="3.00" height="1.00" fill="#26a69a"/>
<rect x="1481.00" y="450.21" width="1.00" height="17.49" fill="#ef5350"/>
<rect x="1480.00" y="450.90" width="3.00" height="5.40" fill="#ef5350"/>
<rect x="1481.00" y="451.90" width="1.00" height="3.40" fill="#f77c80"/>
<rect x="1478.00" y="441.40" width="1.00" height="11.30" fill="#ef5350"/>
<rect x="1477.00" y="444.00" width="3.00" height="6.90" fill="#ef5350"/>
<rect x="1478.00" y="445.00" width="1.00" height="4.90" fill="#f77c80"/>
<rect x="1475.00" y="441.40" width="1.00" height="4.80" fill="#ef5350"/>
<rect x="1474.00" y="443.00" width="3.00" height="1.00" fill="#ef5350"/>
<rect x="1472.00" y="435.09" width="1.00" height="13.31" fill="#ef5350"/>
<rect x="1471.00" y="435.20" width="3.00" height="8.20" fill="#ef5350"/>
<rect x="1472.00" y="436.20" width="1.00" height="6.20" fill="#f77c80"/>
<rect x="1469.00" y="427.40" width="1.00" height="9.09" fill="#ef5350"/>
<rect x="1468.00" y="427.80" width="3.00" height="7.40" fill="#ef5350"/>
<rect x="1469.00" y="428.80" width="1.00" height="5.40" fill="#f77c80"/>
<rect x="1465.00" y="427.40" width="1.00" height="4.46" fill="#26a69a"/>
<rect x="1464.00" y="427.80" width="3.00" height="4.00" fill="#26a69a"/>
<rect x="1465.00" y="428.80" width="1.00" height="2.00" fill="#4caf50"/>
<rect x="1462.00" y="429.50" width="1.00" height="6.54" fill="#26a69a"/>
<rect x="1461.00" y="431.80" width="3.00" height="3.40" fill="#26a69a"/>
<rect x="1462.00" y="432.80" width="1.00" height="1.40" fill="#4caf50"/>
<rect x="1459.00" y="424.85" width="1.00" height="13.85" fill="#ef5350"/>
<rect x="1458.00" y="425.00" width="3.00" height="10.20" fill="#ef5350"/>
<rect x="1459.00" y="426.00" width="1.00" height="8.20" fill="#f77c80"/>
<rect x="1456.00" y="420.14" width="1.00" height="7.26" fill="#ef5350"/>
<rect x="1455.00" y="420.30" width="3.00" height="5.40" fill="#ef5350"/>
<rect x="1456.00" y="421.30" width="1.00" height="3.40" fill="#f77c80"/>
<rect x="1453.00" y="417.10" width="1.00" height="10.30" fill="#26a69a"/>
<rect x="1452.00" y="420.30" width="3.00" height="5.40" fill="#26a69a"/>
<rect x="1453.00" y="421.30" width="1.00" height="3.40" fill="#4caf50"/>
<rect x="1449.00" y="423.00" width="1.00" height="14.82" fill="#26a69a"/>
<rect x="1448.00" y="424.40" width="3.00" height="12.20" fill="#26a69a"/>
<rect x="1449.00" y="425.40" width="1.00" height="10.20" fill="#4caf50"/>
<rect x="1446.00" y="432.20" width="1.00" height="10.20" fill="#26a69a"/>
<rect x="1445.00" y="436.00" width="3.00" height="1.00" fill="#26a69a"/>
<rect x="1443.00" y="415.74" width="1.00" height="21.86" fill="#ef5350"/>
<rect x="1442.00" y="420.30" width="3.00" height="17.00" fill="#ef5350"/>
<rect x="1443.00" y="421.30" width="1.00" height="15.00" fill="#f77c80"/>
<rect x="1440.00" y="416.00" width="1.00" height="18.40" fill="#26a69a"/>
<rect x="1439.00" y="420.30" width="3.00" height="12.90" fill="#26a69a"/>
<rect x="1440.00" y="421.30" width="1.00" height="10.90" fill="#4caf50"/>
<rect x="1437.00" y="426.30" width="1.00" height="6.41" fill="#ef5350"/>
<rect x="1436.00" y="428.40" width="3.00" height="4.10" fill="#ef5350"/>
<rect x="1437.00" y="429.40" width="1.00" height="2.10" fill="#f77c80"/>
<rect x="1433.00" y="419.80" width="1.00" height="9.70" fill="#ef5350"/>
<rect x="1432.00" y="420.30" width="3.00" height="8.80" fill="#ef5350"/>
<rect x="1433.00" y="421.30" width="1.00" height="6.80" fill="#f77c80"/>
<rect x="1430.00" y="419.30" width="1.00" height="4.43" fill="#26a69a"/>
<rect x="1429.00" y="420.30" width="3.00" height="2.00" fill="#26a69a"/>
<rect x="1427.00" y="417.49" width="1.00" height="6.71" fill="#26a69a"/>
<rect x="1426.00" y="421.60" width="3.00" height="1.40" fill="#26a69a"/>
<rect x="1424.00" y="415.00" width="1.00" height="9.57" fill="#ef5350"/>
<rect x="1423.00" y="418.20" width="3.00" height="5.50" fill="#ef5350"/>
<rect x="1424.00" y="419.20" width="1.00" height="3.50" fill="#f77c80"/>
<rect x="1421.00" y="411.80" width="1.00" height="12.38" fill="#ef5350"/>
<rect x="1420.00" y="418.00" width="3.00" height="1.00" fill="#ef5350"/>
<rect x="1418.00" y="415.00" width="1.00" height="8.60" fill="#26a69a"/>
<rect x="1417.00" y="419.00" width="3.00" height="3.30" fill="#26a69a"/>
<rect x="1418.00" y="420.00" width="1.00" height="1.30" fill="#4caf50"/>
<rect x="1414.00" y="412.80" width="1.00" height="9.59" fill="#ef5350"/>
<rect x="1413.00" y="414.20" width="3.00" height="8.10" fill="#ef5350"/>
<rect x="1414.00" y="415.20" width="1.00" height="6.10" fill="#f77c80"/>
<rect x="1411.00" y="409.10" width="1.00" height="6.40" fill="#ef5350"/>
<rect x="1410.00" y="412.00" width="3.00" height="2.80" fill="#ef5350"/>
<rect x="1411.00" y="413.00" width="1.00" height="0.80" fill="#f77c80"/>
<rect x="1408.00" y="408.67" width="1.00" height="9.03" fill="#ef5350"/>
<rect x="1407.00" y="411.50" width="3.00" height="1.30" fill="#ef5350"/>
<rect x="1405.00" y="404.20" width="1.00" height="7.92" fill="#ef5350"/>
<rect x="1404.00" y="406.00" width="3.00" height="5.50" fill="#ef5350"/>
<rect x="1405.00" y="407.00" width="1.00" height="3.50" fill="#f77c80"/>
<rect x="1402.00" y="401.00" width="1.00" height="9.70" fill="#26a69a"/>
<rect x="1401.00" y="406.20" width="3.00" height="3.40" fill="#26a69a"/>
<rect x="1402.00" y="407.20" width="1.00" height="1.40" fill="#4caf50"/>
<rect x="1398.00" y="401.39" width="1.00" height="17.91" fill="#ef5350"/>
<rect x="1397.00" y="401.70" width="3.00" height="7.90" fill="#ef5350"/>
<rect x="1398.00" y="402.70" width="1.00" height="5.90" fill="#f77c80"/>
<rect x="1395.00" y="389.10" width="1.00" height="12.83" fill="#ef5350"/>
<rect x="1394.00" y="396.60" width="3.00" height="5.10" fill="#ef5350"/>
<rect x="1395.00" y="397.60" width="1.00" height="3.10" fill="#f77c80"/>
<rect x="1392.00" y="381.00" width="1.00" height="16.48" fill="#ef5350"/>
<rect x="1391.00" y="385.30" width="3.00" height="11.30" fill="#ef5350"/>
<rect x="1392.00" y="386.30" width="1.00" height="9.30" fill="#f77c80"/>
<rect x="1389.00" y="378.20" width="1.00" height="10.36" fill="#ef5350"/>
<rect x="1388.00" y="380.20" width="3.00" height="5.10" fill="#ef5350"/>
<rect x="1389.00" y="381.20" width="1.00" height="3.10" fill="#f77c80"/>
<rect x="1386.00" y="377.00" width="1.00" height="7.60" fill="#26a69a"/>
<rect x="1385.00" y="381.30" width="3.00" height="2.30" fill="#26a69a"/>
<rect x="1382.00" y="374.00" width="1.00" height="10.02" fill="#ef5350"/>
<rect x="1381.00" y="376.20" width="3.00" height="7.40" fill="#ef5350"/>
<rect x="1382.00" y="377.20" width="1.00" height="5.40" fill="#f77c80"/>
<rect x="1379.00" y="371.90" width="1.00" height="8.90" fill="#26a69a"/>
<rect x="1378.00" y="376.20" width="3.00" height="1.70" fill="#26a69a"/>
<rect x="1376.00" y="374.80" width="1.00" height="9.80" fill="#ef5350"/>
<rect x="1375.00" y="377.00" width="3.00" height="1.00" fill="#ef5350"/>
<rect x="1373.00" y="376.50" width="1.00" height="9.40" fill="#26a69a"/>
<rect x="1372.00" y="377.40" width="3.00" height="3.90" fill="#26a69a"/>
<rect x="1373.00" y="378.40" width="1.00" height="1.90" fill="#4caf50"/>
<rect x="1370.00" y="371.50" width="1.00" height="12.30" fill="#ef5350"/>
<rect x="1369.00" y="373.40" width="3.00" height="7.90" fill="#ef5350"/>
<rect x="1370.00" y="374.40" width="1.00" height="5.90" fill="#f77c80"/>
<rect x="1366.00" y="368.00" width="1.00" height="9.00" fill="#ef5350"/>
<rect x="1365.00" y="373.00" width="3.00" height="1.00" fill="#ef5350"/>
<rect x="1363.00" y="369.30" width="1.00" height="36.22" fill="#26a69a"/>
<rect x="1362.00" y="373.40" width="3.00" height="28.30" fill="#26a69a"/>
<rect x="1363.00" y="374.40" width="1.00" height="26.30" fill="#4caf50"/>
<rect x="1360.00" y="396.37" width="1.00" height="9.43" fill="#ef5350"/>
<rect x="1359.00" y="397.20" width="3.00" height="4.50" fill="#ef5350"/>
<rect x="1360.00" y="398.20" width="1.00" height="2.50" fill="#f77c80"/>
<rect x="1357.00" y="391.00" width="1.00" height="7.60" fill="#ef5350"/>
<rect x="1356.00" y="393.20" width="3.00" height="4.00" fill="#ef5350"/>
<rect x="1357.00" y="394.20" width="1.00" height="2.00" fill="#f77c80"/>
<rect x="1354.00" y="385.16" width="1.00" height="8.17" fill="#ef5350"/>
<rect x="1353.00" y="385.30" width="3.00" height="7.90" fill="#ef5350"/>
<rect x="1354.00" y="386.30" width="1.00" height="5.90" fill="#f77c80"/>
<rect x="1351.00" y="383.30" width="1.00" height="13.20" fill="#26a69a"/>
<rect x="1350.00" y="385.30" width="3.00" height="10.20" fill="#26a69a"/>
<rect x="1351.00" y="386.30" width="1.00" height="8.20" fill="#4caf50"/>
<rect x="1347.00" y="392.30" width="1.00" height="5.50" fill="#26a69a"/>
<rect x="1346.00" y="395.00" width="3.00" height="1.00" fill="#26a69a"/>
<rect x="1344.00" y="384.20" width="1.00" height="16.50" fill="#ef5350"/>
<rect x="1343.00" y="391.50" width="3.00" height="5.10" fill="#ef5350"/>
<rect x="1344.00" y="392.50" width="1.00" height="3.10" fill="#f77c80"/>
<rect x="1341.00" y="387.09" width="1.00" height="8.61" fill="#ef5350"/>
<rect x="1340.00" y="387.50" width="3.00" height="4.00" fill="#ef5350"/>
<rect x="1341.00" y="388.50" width="1.00" height="2.00" fill="#f77c80"/>
<rect x="1338.00" y="385.50" width="1.00" height="4.20" fill="#ef5350"/>
<rect x="1337.00" y="385.90" width="3.00" height="1.60" fill="#ef5350"/>
<rect x="1335.00" y="380.40" width="1.00" height="9.30" fill="#ef5350"/>
<rect x="1334.00" y="381.30" width="3.00" height="5.10" fill="#ef5350"/>
<rect x="1335.00" y="382.30" width="1.00" height="3.10" fill="#f77c80"/>
<rect x="1331.00" y="371.40" width="1.00" height="12.49" fill="#ef5350"/>
<rect x="1330.00" y="372.30" width="3.00" height="9.00" fill="#ef5350"/>
<rect x="1331.00" y="373.30" width="1.00" height="7.00" fill="#f77c80"/>
<rect x="1328.00" y="364.20" width="1.00" height="17.40" fill="#26a69a"/>
<rect x="1327.00" y="372.80" width="3.00" height="2.20" fill="#26a69a"/>
<rect x="1325.00" y="358.85" width="1.00" height="19.85" fill="#ef5350"/>
<rect x="1324.00" y="360.40" width="3.00" height="14.60" fill="#ef5350"/>
<rect x="1325.00" y="361.40" width="1.00" height="12.60" fill="#f77c80"/>
<rect x="1322.00" y="359.35" width="1.00" height="18.09" fill="#26a69a"/>
<rect x="1321.00" y="360.40" width="3.00" height="14.60" fill="#26a69a"/>
<rect x="1322.00" y="361.40" width="1.00" height="12.60" fill="#4caf50"/>
<rect x="1319.00" y="373.55" width="1.00" height="13.15" fill="#26a69a"/>
<rect x="1318.00" y="375.00" width="3.00" height="10.90" fill="#26a69a"/>
<rect x="1319.00" y="376.00" width="1.00" height="8.90" fill="#4caf50"/>
<rect x="1315.00" y="373.10" width="1.00" height="13.54" fill="#ef5350"/>
<rect x="1314.00" y="379.00" width="3.00" height="6.90" fill="#ef5350"/>
<rect x="1315.00" y="380.00" width="1.00" height="4.90" fill="#f77c80"/>
<rect x="1312.00" y="376.10" width="1.00" height="4.70" fill="#26a69a"/>
<rect x="1311.00" y="379.00" width="3.00" height="1.20" fill="#26a69a"/>
<rect x="1309.00" y="363.40" width="1.00" height="20.71" fill="#ef5350"/>
<rect x="1308.00" y="363.80" width="3.00" height="15.80" fill="#ef5350"/>
<rect x="1309.00" y="364.80" width="1.00" height="13.80" fill="#f77c80"/>
<rect x="1306.00" y="359.10" width="1.00" height="6.96" fill="#ef5350"/>
<rect x="1305.00" y="363.00" width="3.00" height="1.00" fill="#ef5350"/>
<rect x="1303.00" y="358.30" width="1.00" height="37.70" fill="#26a69a"/>
<rect x="1302.00" y="363.20" width="3.00" height="25.50" fill="#26a69a"/>
<rect x="1303.00" y="364.20" width="1.00" height="23.50" fill="#4caf50"/>
<rect x="1299.00" y="378.36" width="1.00" height="12.64" fill="#ef5350"/>
<rect x="1298.00" y="379.00" width="3.00" height="9.70" fill="#ef5350"/>
<rect x="1299.00" y="380.00" width="1.00" height="7.70" fill="#f77c80"/>
<rect x="1296.00" y="371.90" width="1.00" height="11.90" fill="#26a69a"/>
<rect x="1295.00" y="379.60" width="3.00" height="2.90" fill="#26a69a"/>
<rect x="1296.00" y="380.60" width="1.00" height="0.90" fill="#4caf50"/>
<rect x="1293.00" y="379.92" width="1.00" height="11.08" fill="#ef5350"/>
<rect x="1292.00" y="381.30" width="3.00" height="1.20" fill="#ef5350"/>
<rect x="1290.00" y="377.68" width="1.00" height="8.01" fill="#ef5350"/>
<rect x="1289.00" y="379.00" width="3.00" height="3.00" fill="#ef5350"/>
<rect x="1290.00" y="380.00" width="1.00" height="1.00" fill="#f77c80"/>
<rect x="1287.00" y="374.15" width="1.00" height="13.85" fill="#ef5350"/>
<rect x="1286.00" y="376.50" width="3.00" height="3.10" fill="#ef5350"/>
<rect x="1287.00" y="377.50" width="1.00" height="1.10" fill="#f77c80"/>
<rect x="1284.00" y="374.20" width="1.00" height="5.50" fill="#ef5350"/>
<rect x="1283.00" y="375.50" width="3.00" height="1.00" fill="#ef5350"/>
<rect x="1280.00" y="372.20" width="1.00" height="8.30" fill="#26a69a"/>
<rect x="1279.00" y="375.70" width="3.00" height="3.30" fill="#26a69a"/>
<rect x="1280.00" y="376.70" width="1.00" height="1.30" fill="#4caf50"/>
<rect x="1277.00" y="369.00" width="1.00" height="12.70" fill="#ef5350"/>
<rect x="1276.00" y="375.70" width="3.00" height="3.30" fill="#ef5350"/>
<rect x="1277.00" y="376.70" width="1.00" height="1.30" fill="#f77c80"/>
<rect x="1274.00" y="366.20" width="1.00" height="20.70" fill="#26a69a"/>
<rect x="1273.00" y="375.70" width="3.00" height="2.30" fill="#26a69a"/>
<rect x="1271.00" y="377.30" width="1.00" height="8.40" fill="#26a69a"/>
<rect x="1270.00" y="378.00" width="3.00" height="6.20" fill="#26a69a"/>
<rect x="1271.00" y="379.00" width="1.00" height="4.20" fill="#4caf50"/>
<rect x="1268.00" y="373.71" width="1.00" height="13.19" fill="#ef5350"/>
<rect x="1267.00" y="374.50" width="3.00" height="9.70" fill="#ef5350"/>
<rect x="1268.00" y="375.50" width="1.00" height="7.70" fill="#f77c80"/>
<rect x="1264.00" y="368.20" width="1.00" height="10.70" fill="#ef5350"/>
<rect x="1263.00" y="368.90" width="3.00" height="5.60" fill="#ef5350"/>
<rect x="1264.00" y="369.90" width="1.00" height="3.60" fill="#f77c80"/>
<rect x="1261.00" y="357.96" width="1.00" height="11.68" fill="#ef5350"/>
<rect x="1260.00" y="365.50" width="3.00" height="3.90" fill="#ef5350"/>
<rect x="1261.00" y="366.50" width="1.00" height="1.90" fill="#f77c80"/>
<rect x="1258.00" y="353.96" width="1.00" height="12.64" fill="#ef5350"/>
<rect x="1257.00" y="355.30" width="3.00" height="10.20" fill="#ef5350"/>
<rect x="1258.00" y="356.30" width="1.00" height="8.20" fill="#f77c80"/>
<rect x="1255.00" y="354.00" width="1.00" height="9.34" fill="#26a69a"/>
<rect x="1254.00" y="355.30" width="3.00" height="5.10" fill="#26a69a"/>
<rect x="1255.00" y="356.30" width="1.00" height="3.10" fill="#4caf50"/>
<rect x="1252.00" y="357.10" width="1.00" height="5.60" fill="#ef5350"/>
<rect x="1251.00" y="358.10" width="3.00" height="2.30" fill="#ef5350"/>
<rect x="1248.00" y="352.65" width="1.00" height="7.49" fill="#ef5350"/>
<rect x="1247.00" y="353.00" width="3.00" height="5.70" fill="#ef5350"/>
<rect x="1248.00" y="354.00" width="1.00" height="3.70" fill="#f77c80"/>
<rect x="1245.00" y="349.20" width="1.00" height="3.87" fill="#ef5350"/>
<rect x="1244.00" y="352.00" width="3.00" height="1.00" fill="#ef5350"/>
<rect x="1242.00" y="349.53" width="1.00" height="5.17" fill="#ef5350"/>
<rect x="1241.00" y="351.50" width="3.00" height="1.00" fill="#ef5350"/>
<rect x="1239.00" y="345.69" width="1.00" height="7.81" fill="#ef5350"/>
<rect x="1238.00" y="348.50" width="3.00" height="2.80" fill="#ef5350"/>
<rect x="1239.00" y="349.50" width="1.00" height="0.80" fill="#f77c80"/>
<rect x="1236.00" y="346.80" width="1.00" height="11.90" fill="#26a69a"/>
<rect x="1235.00" y="348.00" width="3.00" height="5.60" fill="#26a69a"/>
<rect x="1236.00" y="349.00" width="1.00" height="3.60" fill="#4caf50"/>
<rect x="1232.00" y="350.49" width="1.00" height="4.21" fill="#ef5350"/>
<rect x="1231.00" y="352.00" width="3.00" height="1.00" fill="#ef5350"/>
<rect x="1229.00" y="350.00" width="1.00" height="3.50" fill="#ef5350"/>
<rect x="1228.00" y="351.50" width="3.00" height="1.00" fill="#ef5350"/>
<rect x="1226.00" y="348.80" width="1.00" height="8.73" fill="#26a69a"/>
<rect x="1225.00" y="351.30" width="3.00" height="2.30" fill="#26a69a"/>
<rect x="1223.00" y="350.00" width="1.00" height="4.31" fill="#ef5350"/>
<rect x="1222.00" y="351.30" width="3.00" height="2.30" fill="#ef5350"/>
<rect x="1220.00" y="348.00" width="1.00" height="9.50" fill="#26a69a"/>
<rect x="1219.00" y="350.80" width="3.00" height="5.60" fill="#26a69a"/>
<rect x="1220.00" y="351.80" width="1.00" height="3.60" fill="#4caf50"/>
<rect x="1217.00" y="348.00" width="1.00" height="10.94" fill="#ef5350"/>
<rect x="1216.00" y="350.80" width="3.00" height="5.60" fill="#ef5350"/>
<rect x="1217.00" y="351.80" width="1.00" height="3.60" fill="#f77c80"/>
<rect x="1213.00" y="350.00" width="1.00" height="8.70" fill="#26a69a"/>
<rect x="1212.00" y="350.80" width="3.00" height="3.90" fill="#26a69a"/>
<rect x="1213.00" y="351.80" width="1.00" height="1.90" fill="#4caf50"/>
<rect x="1210.00" y="343.50" width="1.00" height="14.40" fill="#ef5350"/>
<rect x="1209.00" y="345.70" width="3.00" height="9.00" fill="#ef5350"/>
<rect x="1210.00" y="346.70" width="1.00" height="7.00" fill="#f77c80"/>
<rect x="1207.00" y="337.44" width="1.00" height="10.16" fill="#ef5350"/>
<rect x="1206.00" y="339.40" width="3.00" height="6.30" fill="#ef5350"/>
<rect x="1207.00" y="340.40" width="1.00" height="4.30" fill="#f77c80"/>
<rect x="1204.00" y="329.00" width="1.00" height="11.80" fill="#ef5350"/>
<rect x="1203.00" y="333.20" width="3.00" height="6.20" fill="#ef5350"/>
<rect x="1204.00" y="334.20" width="1.00" height="4.20" fill="#f77c80"/>
<rect x="1201.00" y="331.00" width="1.00" height="11.35" fill="#26a69a"/>
<rect x="1200.00" y="333.20" width="3.00" height="5.10" fill="#26a69a"/>
<rect x="1201.00" y="334.20" width="1.00" height="3.10" fill="#4caf50"/>
<rect x="1197.00" y="334.90" width="1.00" height="6.00" fill="#26a69a"/>
<rect x="1196.00" y="338.45" width="3.00" height="1.00" fill="#26a69a"/>
<rect x="1194.00" y="333.74" width="1.00" height="9.22" fill="#26a69a"/>
<rect x="1193.00" y="339.40" width="3.00" height="2.30" fill="#26a69a"/>
<rect x="1191.00" y="338.10" width="1.00" height="8.56" fill="#26a69a"/>
<rect x="1190.00" y="341.70" width="3.00" height="2.80" fill="#26a69a"/>
<rect x="1191.00" y="342.70" width="1.00" height="0.80" fill="#4caf50"/>
<rect x="1188.00" y="338.00" width="1.00" height="11.73" fill="#26a69a"/>
<rect x="1187.00" y="344.50" width="3.00" height="5.10" fill="#26a69a"/>
<rect x="1188.00" y="345.50" width="1.00" height="3.10" fill="#4caf50"/>
<rect x="1185.00" y="338.40" width="1.00" height="14.35" fill="#ef5350"/>
<rect x="1184.00" y="338.90" width="3.00" height="10.70" fill="#ef5350"/>
<rect x="1185.00" y="339.90" width="1.00" height="8.70" fill="#f77c80"/>
<rect x="1181.00" y="329.10" width="1.00" height="12.39" fill="#ef5350"/>
<rect x="1180.00" y="331.70" width="3.00" height="7.30" fill="#ef5350"/>
<rect x="1181.00" y="332.70" width="1.00" height="5.30" fill="#f77c80"/>
<rect x="1178.00" y="331.20" width="1.00" height="23.30" fill="#26a69a"/>
<rect x="1177.00" y="331.70" width="3.00" height="13.60" fill="#26a69a"/>
<rect x="1178.00" y="332.70" width="1.00" height="11.60" fill="#4caf50"/>
<rect x="1175.00" y="338.40" width="1.00" height="22.00" fill="#26a69a"/>
<rect x="1174.00" y="345.30" width="3.00" height="5.10" fill="#26a69a"/>
<rect x="1175.00" y="346.30" width="1.00" height="3.10" fill="#4caf50"/>
<rect x="1172.00" y="346.00" width="1.00" height="7.70" fill="#26a69a"/>
<rect x="1171.00" y="350.00" width="3.00" height="1.00" fill="#26a69a"/>
<rect x="1169.00" y="345.20" width="1.00" height="9.30" fill="#ef5350"/>
<rect x="1168.00" y="350.00" width="3.00" height="1.00" fill="#ef5350"/>
<rect x="1165.00" y="319.55" width="1.00" height="32.10" fill="#ef5350"/>
<rect x="1164.00" y="326.00" width="3.00" height="24.40" fill="#ef5350"/>
<rect x="1165.00" y="327.00" width="1.00" height="22.40" fill="#f77c80"/>
<rect x="1162.00" y="322.30" width="1.00" height="12.28" fill="#26a69a"/>
<rect x="1161.00" y="326.00" width="3.00" height="7.40" fill="#26a69a"/>
<rect x="1162.00" y="327.00" width="1.00" height="5.40" fill="#4caf50"/>
<rect x="1159.00" y="329.90" width="1.00" height="6.19" fill="#26a69a"/>
<rect x="1158.00" y="333.00" width="3.00" height="1.00" fill="#26a69a"/>
<rect x="1156.00" y="332.00" width="1.00" height="6.80" fill="#26a69a"/>
<rect x="1155.00" y="333.50" width="3.00" height="1.00" fill="#26a69a"/>
<rect x="1153.00" y="331.20" width="1.00" height="5.50" fill="#ef5350"/>
<rect x="1152.00" y="333.00" width="3.00" height="1.00" fill="#ef5350"/>
<rect x="1150.00" y="324.00" width="1.00" height="10.60" fill="#ef5350"/>
<rect x="1149.00" y="329.40" width="3.00" height="4.00" fill="#ef5350"/>
<rect x="1150.00" y="330.40" width="1.00" height="2.00" fill="#f77c80"/>
<rect x="1146.00" y="326.10" width="1.00" height="11.50" fill="#26a69a"/>
<rect x="1145.00" y="329.40" width="3.00" height="5.10" fill="#26a69a"/>
<rect x="1146.00" y="330.40" width="1.00" height="3.10" fill="#4caf50"/>
<rect x="1143.00" y="327.14" width="1.00" height="10.46" fill="#ef5350"/>
<rect x="1142.00" y="327.20" width="3.00" height="7.30" fill="#ef5350"/>
<rect x="1143.00" y="328.20" width="1.00" height="5.30" fill="#f77c80"/>
<rect x="1140.00" y="317.20" width="1.00" height="12.30" fill="#ef5350"/>
<rect x="1139.00" y="319.20" width="3.00" height="8.00" fill="#ef5350"/>
<rect x="1140.00" y="320.20" width="1.00" height="6.00" fill="#f77c80"/>
<rect x="1137.00" y="309.10" width="1.00" height="16.60" fill="#ef5350"/>
<rect x="1136.00" y="316.40" width="3.00" height="2.80" fill="#ef5350"/>
<rect x="1137.00" y="317.40" width="1.00" height="0.80" fill="#f77c80"/>
<rect x="1134.00" y="314.78" width="1.00" height="11.20" fill="#26a69a"/>
<rect x="1133.00" y="316.40" width="3.00" height="9.10" fill="#26a69a"/>
<rect x="1134.00" y="317.40" width="1.00" height="7.10" fill="#4caf50"/>
<rect x="1130.00" y="324.00" width="1.00" height="3.00" fill="#ef5350"/>
<rect x="1129.00" y="325.00" width="3.00" height="1.00" fill="#ef5350"/>
<rect x="1127.00" y="322.30" width="1.00" height="9.09" fill="#26a69a"/>
<rect x="1126.00" y="325.50" width="3.00" height="5.60" fill="#26a69a"/>
<rect x="1127.00" y="326.50" width="1.00" height="3.60" fill="#4caf50"/>
<rect x="1124.00" y="317.20" width="1.00" height="14.40" fill="#ef5350"/>
<rect x="1123.00" y="319.80" width="3.00" height="11.30" fill="#ef5350"/>
<rect x="1124.00" y="320.80" width="1.00" height="9.30" fill="#f77c80"/>
<rect x="1121.00" y="315.90" width="1.00" height="7.60" fill="#ef5350"/>
<rect x="1120.00" y="318.00" width="3.00" height="1.80" fill="#ef5350"/>
<rect x="1118.00" y="314.20" width="1.00" height="12.30" fill="#26a69a"/>
<rect x="1117.00" y="318.00" width="3.00" height="6.30" fill="#26a69a"/>
<rect x="1118.00" y="319.00" width="1.00" height="4.30" fill="#4caf50"/>
<rect x="1114.00" y="320.10" width="1.00" height="15.80" fill="#26a69a"/>
<rect x="1113.00" y="324.30" width="3.00" height="7.40" fill="#26a69a"/>
<rect x="1114.00" y="325.30" width="1.00" height="5.40" fill="#4caf50"/>
<rect x="1111.00" y="316.30" width="1.00" height="15.58" fill="#ef5350"/>
<rect x="1110.00" y="318.00" width="3.00" height="13.70" fill="#ef5350"/>
<rect x="1111.00" y="319.00" width="1.00" height="11.70" fill="#f77c80"/>
<rect x="1108.00" y="311.20" width="1.00" height="32.80" fill="#ef5350"/>
<rect x="1107.00" y="317.00" width="3.00" height="1.00" fill="#ef5350"/>
<rect x="1105.00" y="306.10" width="1.00" height="14.94" fill="#ef5350"/>
<rect x="1104.00" y="311.30" width="3.00" height="6.20" fill="#ef5350"/>
<rect x="1105.00" y="312.30" width="1.00" height="4.20" fill="#f77c80"/>
<rect x="1102.00" y="305.30" width="1.00" height="29.30" fill="#26a69a"/>
<rect x="1101.00" y="311.30" width="3.00" height="22.70" fill="#26a69a"/>
<rect x="1102.00" y="312.30" width="1.00" height="20.70" fill="#4caf50"/>
<rect x="1098.00" y="332.00" width="1.00" height="7.70" fill="#26a69a"/>
<rect x="1097.00" y="332.80" width="3.00" height="5.70" fill="#26a69a"/>
<rect x="1098.00" y="333.80" width="1.00" height="3.70" fill="#4caf50"/>
<rect x="1095.00" y="336.30" width="1.00" height="8.50" fill="#ef5350"/>
<rect x="1094.00" y="337.50" width="3.00" height="1.00" fill="#ef5350"/>
<rect x="1092.00" y="336.30" width="1.00" height="5.28" fill="#26a69a"/>
<rect x="1091.00" y="338.00" width="3.00" height="3.30" fill="#26a69a"/>
<rect x="1092.00" y="339.00" width="1.00" height="1.30" fill="#4caf50"/>
<rect x="1089.00" y="332.00" width="1.00" height="9.95" fill="#ef5350"/>
<rect x="1088.00" y="335.00" width="3.00" height="6.30" fill="#ef5350"/>
<rect x="1089.00" y="336.00" width="1.00" height="4.30" fill="#f77c80"/>
<rect x="1086.00" y="327.00" width="1.00" height="14.80" fill="#26a69a"/>
<rect x="1085.00" y="334.50" width="3.00" height="1.00" fill="#26a69a"/>
<rect x="1083.00" y="298.10" width="1.00" height="40.48" fill="#ef5350"/>
<rect x="1082.00" y="300.00" width="3.00" height="36.20" fill="#ef5350"/>
<rect x="1083.00" y="301.00" width="1.00" height="34.20" fill="#f77c80"/>
<rect x="1079.00" y="286.40" width="1.00" height="24.91" fill="#26a69a"/>
<rect x="1078.00" y="300.00" width="3.00" height="6.20" fill="#26a69a"/>
<rect x="1079.00" y="301.00" width="1.00" height="4.20" fill="#4caf50"/>
<rect x="1076.00" y="300.20" width="1.00" height="23.28" fill="#26a69a"/>
<rect x="1075.00" y="306.20" width="3.00" height="17.00" fill="#26a69a"/>
<rect x="1076.00" y="307.20" width="1.00" height="15.00" fill="#4caf50"/>
<rect x="1073.00" y="303.90" width="1.00" height="21.04" fill="#ef5350"/>
<rect x="1072.00" y="317.00" width="3.00" height="6.50" fill="#ef5350"/>
<rect x="1073.00" y="318.00" width="1.00" height="4.50" fill="#f77c80"/>
<rect x="1070.00" y="300.20" width="1.00" height="21.30" fill="#ef5350"/>
<rect x="1069.00" y="304.60" width="3.00" height="12.40" fill="#ef5350"/>
<rect x="1070.00" y="305.60" width="1.00" height="10.40" fill="#f77c80"/>
<rect x="1067.00" y="298.00" width="1.00" height="25.80" fill="#26a69a"/>
<rect x="1066.00" y="304.60" width="3.00" height="17.70" fill="#26a69a"/>
<rect x="1067.00" y="305.60" width="1.00" height="15.70" fill="#4caf50"/>
<rect x="1063.00" y="317.00" width="1.00" height="17.80" fill="#26a69a"/>
<rect x="1062.00" y="322.30" width="3.00" height="3.70" fill="#26a69a"/>
<rect x="1063.00" y="323.30" width="1.00" height="1.70" fill="#4caf50"/>
<rect x="1060.00" y="320.00" width="1.00" height="14.80" fill="#26a69a"/>
<rect x="1059.00" y="326.00" width="3.00" height="4.40" fill="#26a69a"/>
<rect x="1060.00" y="327.00" width="1.00" height="2.40" fill="#4caf50"/>
<rect x="1057.00" y="325.00" width="1.00" height="20.80" fill="#26a69a"/>
<rect x="1056.00" y="330.40" width="3.00" height="18.40" fill="#26a69a"/>
<rect x="1057.00" y="331.40" width="1.00" height="16.40" fill="#4caf50"/>
<rect x="1054.00" y="342.00" width="1.00" height="38.50" fill="#26a69a"/>
<rect x="1053.00" y="348.80" width="3.00" height="25.00" fill="#26a69a"/>
<rect x="1054.00" y="349.80" width="1.00" height="23.00" fill="#4caf50"/>
<rect x="1051.00" y="365.00" width="1.00" height="11.00" fill="#26a69a"/>
<rect x="1050.00" y="373.30" width="3.00" height="1.00" fill="#26a69a"/>
<rect x="1047.00" y="365.00" width="1.00" height="15.50" fill="#ef5350"/>
<rect x="1046.00" y="370.90" width="3.00" height="3.70" fill="#ef5350"/>
<rect x="1047.00" y="371.90" width="1.00" height="1.70" fill="#f77c80"/>
<rect x="1044.00" y="362.80" width="1.00" height="19.90" fill="#26a69a"/>
<rect x="1043.00" y="370.90" width="3.00" height="5.90" fill="#26a69a"/>
<rect x="1044.00" y="371.90" width="1.00" height="3.90" fill="#4caf50"/>
<rect x="1041.00" y="373.00" width="1.00" height="19.00" fill="#26a69a"/>
<rect x="1040.00" y="376.80" width="3.00" height="2.20" fill="#26a69a"/>
<rect x="1038.00" y="358.15" width="1.00" height="24.55" fill="#ef5350"/>
<rect x="1037.00" y="360.60" width="3.00" height="18.40" fill="#ef5350"/>
<rect x="1038.00" y="361.60" width="1.00" height="16.40" fill="#f77c80"/>
<rect x="1035.00" y="351.00" width="1.00" height="12.50" fill="#ef5350"/>
<rect x="1034.00" y="357.60" width="3.00" height="3.00" fill="#ef5350"/>
<rect x="1035.00" y="358.60" width="1.00" height="1.00" fill="#f77c80"/>
<rect x="1031.00" y="332.33" width="1.00" height="28.97" fill="#ef5350"/>
<rect x="1030.00" y="339.20" width="3.00" height="18.40" fill="#ef5350"/>
<rect x="1031.00" y="340.20" width="1.00" height="16.40" fill="#f77c80"/>
<rect x="1028.00" y="332.84" width="1.00" height="9.36" fill="#ef5350"/>
<rect x="1027.00" y="336.30" width="3.00" height="2.90" fill="#ef5350"/>
<rect x="1028.00" y="337.30" width="1.00" height="0.90" fill="#f77c80"/>
<rect x="1025.00" y="312.00" width="1.00" height="30.20" fill="#ef5350"/>
<rect x="1024.00" y="320.00" width="3.00" height="16.30" fill="#ef5350"/>
<rect x="1025.00" y="321.00" width="1.00" height="14.30" fill="#f77c80"/>
<rect x="1022.00" y="315.00" width="1.00" height="10.00" fill="#26a69a"/>
<rect x="1021.00" y="320.00" width="3.00" height="2.30" fill="#26a69a"/>
<rect x="1019.00" y="315.87" width="1.00" height="8.63" fill="#ef5350"/>
<rect x="1018.00" y="320.00" width="3.00" height="2.30" fill="#ef5350"/>
<rect x="1016.00" y="315.68" width="1.00" height="5.49" fill="#ef5350"/>
<rect x="1015.00" y="316.40" width="3.00" height="3.60" fill="#ef5350"/>
<rect x="1016.00" y="317.40" width="1.00" height="1.60" fill="#f77c80"/>
<rect x="1012.00" y="313.27" width="1.00" height="9.03" fill="#ef5350"/>
<rect x="1011.00" y="314.20" width="3.00" height="2.20" fill="#ef5350"/>
<rect x="1009.00" y="312.00" width="1.00" height="10.30" fill="#26a69a"/>
<rect x="1008.00" y="313.70" width="3.00" height="1.00" fill="#26a69a"/>
<rect x="1006.00" y="314.00" width="1.00" height="23.81" fill="#26a69a"/>
<rect x="1005.00" y="315.00" width="3.00" height="16.00" fill="#26a69a"/>
<rect x="1006.00" y="316.00" width="1.00" height="14.00" fill="#4caf50"/>
<rect x="1003.00" y="327.40" width="1.00" height="13.12" fill="#26a69a"/>
<rect x="1002.00" y="331.00" width="3.00" height="3.00" fill="#26a69a"/>
<rect x="1003.00" y="332.00" width="1.00" height="1.00" fill="#4caf50"/>
<rect x="1000.00" y="329.60" width="1.00" height="17.00" fill="#26a69a"/>
<rect x="999.00" y="334.00" width="3.00" height="8.20" fill="#26a69a"/>
<rect x="1000.00" y="335.00" width="1.00" height="6.20" fill="#4caf50"/>
<rect x="996.00" y="339.00" width="1.00" height="9.80" fill="#26a69a"/>
<rect x="995.00" y="341.50" width="3.00" height="1.00" fill="#26a69a"/>
<rect x="993.00" y="332.60" width="1.00" height="13.20" fill="#ef5350"/>
<rect x="992.00" y="334.00" width="3.00" height="8.20" fill="#ef5350"/>
<rect x="993.00" y="335.00" width="1.00" height="6.20" fill="#f77c80"/>
<rect x="990.00" y="326.00" width="1.00" height="16.00" fill="#26a69a"/>
<rect x="989.00" y="334.00" width="3.00" height="3.00" fill="#26a69a"/>
<rect x="990.00" y="335.00" width="1.00" height="1.00" fill="#4caf50"/>
<rect x="987.00" y="326.00" width="1.00" height="12.50" fill="#26a69a"/>
<rect x="986.00" y="336.50" width="3.00" height="1.00" fill="#26a69a"/>
<rect x="984.00" y="322.30" width="1.00" height="15.85" fill="#ef5350"/>
<rect x="983.00" y="326.00" width="3.00" height="11.70" fill="#ef5350"/>
<rect x="984.00" y="327.00" width="1.00" height="9.70" fill="#f77c80"/>
<rect x="980.00" y="317.00" width="1.00" height="23.00" fill="#26a69a"/>
<rect x="979.00" y="326.00" width="3.00" height="10.30" fill="#26a69a"/>
<rect x="980.00" y="327.00" width="1.00" height="8.30" fill="#4caf50"/>
<rect x="977.00" y="332.19" width="1.00" height="15.81" fill="#ef5350"/>
<rect x="976.00" y="332.60" width="3.00" height="3.70" fill="#ef5350"/>
<rect x="977.00" y="333.60" width="1.00" height="1.70" fill="#f77c80"/>
<rect x="974.00" y="308.00" width="1.00" height="32.00" fill="#ef5350"/>
<rect x="973.00" y="309.00" width="3.00" height="23.60" fill="#ef5350"/>
<rect x="974.00" y="310.00" width="1.00" height="21.60" fill="#f77c80"/>
<rect x="971.00" y="308.33" width="1.00" height="14.67" fill="#26a69a"/>
<rect x="970.00" y="309.00" width="3.00" height="7.40" fill="#26a69a"/>
<rect x="971.00" y="310.00" width="1.00" height="5.40" fill="#4caf50"/>
<rect x="968.00" y="294.30" width="1.00" height="27.20" fill="#ef5350"/>
<rect x="967.00" y="300.20" width="3.00" height="16.20" fill="#ef5350"/>
<rect x="968.00" y="301.20" width="1.00" height="14.20" fill="#f77c80"/>
<rect x="964.00" y="298.67" width="1.00" height="10.33" fill="#26a69a"/>
<rect x="963.00" y="300.20" width="3.00" height="3.70" fill="#26a69a"/>
<rect x="964.00" y="301.20" width="1.00" height="1.70" fill="#4caf50"/>
<rect x="961.00" y="288.80" width="1.00" height="17.67" fill="#ef5350"/>
<rect x="960.00" y="291.60" width="3.00" height="12.20" fill="#ef5350"/>
<rect x="961.00" y="292.60" width="1.00" height="10.20" fill="#f77c80"/>
<rect x="958.00" y="287.70" width="1.00" height="19.90" fill="#26a69a"/>
<rect x="957.00" y="291.60" width="3.00" height="3.40" fill="#26a69a"/>
<rect x="958.00" y="292.60" width="1.00" height="1.40" fill="#4caf50"/>
<rect x="955.00" y="278.00" width="1.00" height="17.80" fill="#ef5350"/>
<rect x="954.00" y="288.00" width="3.00" height="7.00" fill="#ef5350"/>
<rect x="955.00" y="289.00" width="1.00" height="5.00" fill="#f77c80"/>
<rect x="952.00" y="286.00" width="1.00" height="31.42" fill="#26a69a"/>
<rect x="951.00" y="288.00" width="3.00" height="29.40" fill="#26a69a"/>
<rect x="952.00" y="289.00" width="1.00" height="27.40" fill="#4caf50"/>
<rect x="949.00" y="311.30" width="1.00" height="14.01" fill="#26a69a"/>
<rect x="948.00" y="317.40" width="3.00" height="6.60" fill="#26a69a"/>
<rect x="949.00" y="318.40" width="1.00" height="4.60" fill="#4caf50"/>
<rect x="945.00" y="319.40" width="1.00" height="14.30" fill="#26a69a"/>
<rect x="944.00" y="324.00" width="3.00" height="6.30" fill="#26a69a"/>
<rect x="945.00" y="325.00" width="1.00" height="4.30" fill="#4caf50"/>
<rect x="942.00" y="322.37" width="1.00" height="10.68" fill="#ef5350"/>
<rect x="941.00" y="323.50" width="3.00" height="7.50" fill="#ef5350"/>
<rect x="942.00" y="324.50" width="1.00" height="5.50" fill="#f77c80"/>
<rect x="939.00" y="317.40" width="1.00" height="22.71" fill="#26a69a"/>
<rect x="938.00" y="323.50" width="3.00" height="8.80" fill="#26a69a"/>
<rect x="939.00" y="324.50" width="1.00" height="6.80" fill="#4caf50"/>
<rect x="936.00" y="329.42" width="1.00" height="15.78" fill="#26a69a"/>
<rect x="935.00" y="332.30" width="3.00" height="8.20" fill="#26a69a"/>
<rect x="936.00" y="333.30" width="1.00" height="6.20" fill="#4caf50"/>
<rect x="933.00" y="338.42" width="1.00" height="23.78" fill="#26a69a"/>
<rect x="932.00" y="340.50" width="3.00" height="14.20" fill="#26a69a"/>
<rect x="933.00" y="341.50" width="1.00" height="12.20" fill="#4caf50"/>
<rect x="929.00" y="341.00" width="1.00" height="19.00" fill="#26a69a"/>
<rect x="928.00" y="353.50" width="3.00" height="1.00" fill="#26a69a"/>
<rect x="926.00" y="325.98" width="1.00" height="32.97" fill="#ef5350"/>
<rect x="925.00" y="329.60" width="3.00" height="25.10" fill="#ef5350"/>
<rect x="926.00" y="330.60" width="1.00" height="23.10" fill="#f77c80"/>
<rect x="923.00" y="326.00" width="1.00" height="12.40" fill="#26a69a"/>
<rect x="922.00" y="329.00" width="3.00" height="1.00" fill="#26a69a"/>
<rect x="920.00" y="326.00" width="1.00" height="15.80" fill="#26a69a"/>
<rect x="919.00" y="329.60" width="3.00" height="2.00" fill="#26a69a"/>
<rect x="917.00" y="314.00" width="1.00" height="17.75" fill="#ef5350"/>
<rect x="916.00" y="320.00" width="3.00" height="11.60" fill="#ef5350"/>
<rect x="917.00" y="321.00" width="1.00" height="9.60" fill="#f77c80"/>
<rect x="913.00" y="307.67" width="1.00" height="24.63" fill="#ef5350"/>
<rect x="912.00" y="313.30" width="3.00" height="6.70" fill="#ef5350"/>
<rect x="913.00" y="314.30" width="1.00" height="4.70" fill="#f77c80"/>
<rect x="910.00" y="304.20" width="1.00" height="45.42" fill="#26a69a"/>
<rect x="909.00" y="313.30" width="3.00" height="29.90" fill="#26a69a"/>
<rect x="910.00" y="314.30" width="1.00" height="27.90" fill="#4caf50"/>
<rect x="907.00" y="339.00" width="1.00" height="9.47" fill="#26a69a"/>
<rect x="906.00" y="343.20" width="3.00" height="1.40" fill="#26a69a"/>
<rect x="904.00" y="326.40" width="1.00" height="20.20" fill="#ef5350"/>
<rect x="903.00" y="331.00" width="3.00" height="13.60" fill="#ef5350"/>
<rect x="904.00" y="332.00" width="1.00" height="11.60" fill="#f77c80"/>
<rect x="901.00" y="329.94" width="1.00" height="10.56" fill="#26a69a"/>
<rect x="900.00" y="331.00" width="3.00" height="4.00" fill="#26a69a"/>
<rect x="901.00" y="332.00" width="1.00" height="2.00" fill="#4caf50"/>
<rect x="897.00" y="322.10" width="1.00" height="28.68" fill="#26a69a"/>
<rect x="896.00" y="335.00" width="3.00" height="14.30" fill="#26a69a"/>
<rect x="897.00" y="336.00" width="1.00" height="12.30" fill="#4caf50"/>
<rect x="894.00" y="346.00" width="1.00" height="23.70" fill="#26a69a"/>
<rect x="893.00" y="349.30" width="3.00" height="6.10" fill="#26a69a"/>
<rect x="894.00" y="350.30" width="1.00" height="4.10" fill="#4caf50"/>
<rect x="891.00" y="348.60" width="1.00" height="18.40" fill="#26a69a"/>
<rect x="890.00" y="355.40" width="3.00" height="6.80" fill="#26a69a"/>
<rect x="891.00" y="356.40" width="1.00" height="4.80" fill="#4caf50"/>
<rect x="888.00" y="354.45" width="1.00" height="11.15" fill="#ef5350"/>
<rect x="887.00" y="354.70" width="3.00" height="7.50" fill="#ef5350"/>
<rect x="888.00" y="355.70" width="1.00" height="5.50" fill="#f77c80"/>
<rect x="885.00" y="333.70" width="1.00" height="23.60" fill="#ef5350"/>
<rect x="884.00" y="343.90" width="3.00" height="10.80" fill="#ef5350"/>
<rect x="885.00" y="344.90" width="1.00" height="8.80" fill="#f77c80"/>
<rect x="882.00" y="341.80" width="1.00" height="28.14" fill="#26a69a"/>
<rect x="881.00" y="343.90" width="3.00" height="25.80" fill="#26a69a"/>
<rect x="882.00" y="344.90" width="1.00" height="23.80" fill="#4caf50"/>
<rect x="878.00" y="351.79" width="1.00" height="22.71" fill="#ef5350"/>
<rect x="877.00" y="352.00" width="3.00" height="17.70" fill="#ef5350"/>
<rect x="878.00" y="353.00" width="1.00" height="15.70" fill="#f77c80"/>
<rect x="875.00" y="346.60" width="1.00" height="12.90" fill="#ef5350"/>
<rect x="874.00" y="348.60" width="3.00" height="4.10" fill="#ef5350"/>
<rect x="875.00" y="349.60" width="1.00" height="2.10" fill="#f77c80"/>
<rect x="872.00" y="310.00" width="1.00" height="42.70" fill="#ef5350"/>
<rect x="871.00" y="315.30" width="3.00" height="33.30" fill="#ef5350"/>
<rect x="872.00" y="316.30" width="1.00" height="31.30" fill="#f77c80"/>
<rect x="869.00" y="313.77" width="1.00" height="28.03" fill="#26a69a"/>
<rect x="868.00" y="314.70" width="3.00" height="26.30" fill="#26a69a"/>
<rect x="869.00" y="315.70" width="1.00" height="24.30" fill="#4caf50"/>
<rect x="866.00" y="320.80" width="1.00" height="40.68" fill="#26a69a"/>
<rect x="865.00" y="341.00" width="3.00" height="19.90" fill="#26a69a"/>
<rect x="866.00" y="342.00" width="1.00" height="17.90" fill="#4caf50"/>
<rect x="862.00" y="303.00" width="1.00" height="71.50" fill="#ef5350"/>
<rect x="861.00" y="311.30" width="3.00" height="49.60" fill="#ef5350"/>
<rect x="862.00" y="312.30" width="1.00" height="47.60" fill="#f77c80"/>
<rect x="859.00" y="296.30" width="1.00" height="47.60" fill="#26a69a"/>
<rect x="858.00" y="311.30" width="3.00" height="27.70" fill="#26a69a"/>
<rect x="859.00" y="312.30" width="1.00" height="25.70" fill="#4caf50"/>
<rect x="856.00" y="335.00" width="1.00" height="51.80" fill="#26a69a"/>
<rect x="855.00" y="339.00" width="3.00" height="45.60" fill="#26a69a"/>
<rect x="856.00" y="340.00" width="1.00" height="43.60" fill="#4caf50"/>
<rect x="853.00" y="384.36" width="1.00" height="13.64" fill="#26a69a"/>
<rect x="852.00" y="384.50" width="3.00" height="13.50" fill="#26a69a"/>
<rect x="853.00" y="385.50" width="1.00" height="11.50" fill="#4caf50"/>
<rect x="850.00" y="397.49" width="1.00" height="22.44" fill="#26a69a"/>
<rect x="849.00" y="398.00" width="3.00" height="21.60" fill="#26a69a"/>
<rect x="850.00" y="399.00" width="1.00" height="19.60" fill="#4caf50"/>
<rect x="846.00" y="418.60" width="1.00" height="15.40" fill="#26a69a"/>
<rect x="845.00" y="419.60" width="3.00" height="11.90" fill="#26a69a"/>
<rect x="846.00" y="420.60" width="1.00" height="9.90" fill="#4caf50"/>
<rect x="843.00" y="430.97" width="1.00" height="3.74" fill="#26a69a"/>
<rect x="842.00" y="431.00" width="3.00" height="1.00" fill="#26a69a"/>
<rect x="840.00" y="429.63" width="1.00" height="19.27" fill="#26a69a"/>
<rect x="839.00" y="432.00" width="3.00" height="16.50" fill="#26a69a"/>
<rect x="840.00" y="433.00" width="1.00" height="14.50" fill="#4caf50"/>
<rect x="837.00" y="444.59" width="1.00" height="5.11" fill="#ef5350"/>
<rect x="836.00" y="445.00" width="3.00" height="3.50" fill="#ef5350"/>
<rect x="837.00" y="446.00" width="1.00" height="1.50" fill="#f77c80"/>
<rect x="834.00" y="441.00" width="1.00" height="5.02" fill="#ef5350"/>
<rect x="833.00" y="444.50" width="3.00" height="1.00" fill="#ef5350"/>
<rect x="830.00" y="433.40" width="1.00" height="13.00" fill="#ef5350"/>
<rect x="829.00" y="437.20" width="3.00" height="8.50" fill="#ef5350"/>
<rect x="830.00" y="438.20" width="1.00" height="6.50" fill="#f77c80"/>
<rect x="827.00" y="436.41" width="1.00" height="8.32" fill="#26a69a"/>
<rect x="826.00" y="437.20" width="3.00" height="7.30" fill="#26a69a"/>
<rect x="827.00" y="438.20" width="1.00" height="5.30" fill="#4caf50"/>
<rect x="824.00" y="435.16" width="1.00" height="13.24" fill="#ef5350"/>
<rect x="823.00" y="438.30" width="3.00" height="6.20" fill="#ef5350"/>
<rect x="824.00" y="439.30" width="1.00" height="4.20" fill="#f77c80"/>
<rect x="821.00" y="418.84" width="1.00" height="20.71" fill="#ef5350"/>
<rect x="820.00" y="428.70" width="3.00" height="9.60" fill="#ef5350"/>
<rect x="821.00" y="429.70" width="1.00" height="7.60" fill="#f77c80"/>
<rect x="818.00" y="413.43" width="1.00" height="15.49" fill="#ef5350"/>
<rect x="817.00" y="415.00" width="3.00" height="13.70" fill="#ef5350"/>
<rect x="818.00" y="416.00" width="1.00" height="11.70" fill="#f77c80"/>
<rect x="815.00" y="401.00" width="1.00" height="22.50" fill="#26a69a"/>
<rect x="814.00" y="415.00" width="3.00" height="5.20" fill="#26a69a"/>
<rect x="815.00" y="416.00" width="1.00" height="3.20" fill="#4caf50"/>
<rect x="811.00" y="405.20" width="1.00" height="24.20" fill="#ef5350"/>
<rect x="810.00" y="410.00" width="3.00" height="10.20" fill="#ef5350"/>
<rect x="811.00" y="411.00" width="1.00" height="8.20" fill="#f77c80"/>
<rect x="808.00" y="409.00" width="1.00" height="29.60" fill="#26a69a"/>
<rect x="807.00" y="410.00" width="3.00" height="26.60" fill="#26a69a"/>
<rect x="808.00" y="411.00" width="1.00" height="24.60" fill="#4caf50"/>
<rect x="805.00" y="434.00" width="1.00" height="15.70" fill="#26a69a"/>
<rect x="804.00" y="436.60" width="3.00" height="4.00" fill="#26a69a"/>
<rect x="805.00" y="437.60" width="1.00" height="2.00" fill="#4caf50"/>
<rect x="802.00" y="434.00" width="1.00" height="16.41" fill="#26a69a"/>
<rect x="801.00" y="440.60" width="3.00" height="9.60" fill="#26a69a"/>
<rect x="802.00" y="441.60" width="1.00" height="7.60" fill="#4caf50"/>
<rect x="799.00" y="449.40" width="1.00" height="19.30" fill="#26a69a"/>
<rect x="798.00" y="450.20" width="3.00" height="10.20" fill="#26a69a"/>
<rect x="799.00" y="451.20" width="1.00" height="8.20" fill="#4caf50"/>
<rect x="795.00" y="456.59" width="1.00" height="6.17" fill="#ef5350"/>
<rect x="794.00" y="457.00" width="3.00" height="3.40" fill="#ef5350"/>
<rect x="795.00" y="458.00" width="1.00" height="1.40" fill="#f77c80"/>
<rect x="792.00" y="445.85" width="1.00" height="11.70" fill="#ef5350"/>
<rect x="791.00" y="446.20" width="3.00" height="11.30" fill="#ef5350"/>
<rect x="792.00" y="447.20" width="1.00" height="9.30" fill="#f77c80"/>
<rect x="789.00" y="444.50" width="1.00" height="4.00" fill="#ef5350"/>
<rect x="788.00" y="444.50" width="3.00" height="1.00" fill="#ef5350"/>
<rect x="786.00" y="441.90" width="1.00" height="6.80" fill="#ef5350"/>
<rect x="785.00" y="444.00" width="3.00" height="1.00" fill="#ef5350"/>
<rect x="783.00" y="438.00" width="1.00" height="9.80" fill="#26a69a"/>
<rect x="782.00" y="444.50" width="3.00" height="2.30" fill="#26a69a"/>
<rect x="779.00" y="445.00" width="1.00" height="13.90" fill="#26a69a"/>
<rect x="778.00" y="446.80" width="3.00" height="7.40" fill="#26a69a"/>
<rect x="779.00" y="447.80" width="1.00" height="5.40" fill="#4caf50"/>
<rect x="776.00" y="449.00" width="1.00" height="6.00" fill="#ef5350"/>
<rect x="775.00" y="450.20" width="3.00" height="4.00" fill="#ef5350"/>
<rect x="776.00" y="451.20" width="1.00" height="2.00" fill="#f77c80"/>
<rect x="773.00" y="450.00" width="1.00" height="7.50" fill="#26a69a"/>
<rect x="772.00" y="450.20" width="3.00" height="2.30" fill="#26a69a"/>
<rect x="770.00" y="443.76" width="1.00" height="11.24" fill="#ef5350"/>
<rect x="769.00" y="445.10" width="3.00" height="7.40" fill="#ef5350"/>
<rect x="770.00" y="446.10" width="1.00" height="5.40" fill="#f77c80"/>
<rect x="767.00" y="439.96" width="1.00" height="6.96" fill="#ef5350"/>
<rect x="766.00" y="440.00" width="3.00" height="5.70" fill="#ef5350"/>
<rect x="767.00" y="441.00" width="1.00" height="3.70" fill="#f77c80"/>
<rect x="763.00" y="437.30" width="1.00" height="4.70" fill="#ef5350"/>
<rect x="762.00" y="439.50" width="3.00" height="1.00" fill="#ef5350"/>
<rect x="760.00" y="438.00" width="1.00" height="5.80" fill="#ef5350"/>
<rect x="759.00" y="439.50" width="3.00" height="1.00" fill="#ef5350"/>
<rect x="757.00" y="437.30" width="1.00" height="4.70" fill="#ef5350"/>
<rect x="756.00" y="439.00" width="3.00" height="1.00" fill="#ef5350"/>
<rect x="754.00" y="431.97" width="1.00" height="13.83" fill="#ef5350"/>
<rect x="753.00" y="437.20" width="3.00" height="2.20" fill="#ef5350"/>
<rect x="751.00" y="431.40" width="1.00" height="9.41" fill="#ef5350"/>
<rect x="750.00" y="433.20" width="3.00" height="4.50" fill="#ef5350"/>
<rect x="751.00" y="434.20" width="1.00" height="2.50" fill="#f77c80"/>
<rect x="748.00" y="428.00" width="1.00" height="12.60" fill="#26a69a"/>
<rect x="747.00" y="433.80" width="3.00" height="2.80" fill="#26a69a"/>
<rect x="748.00" y="434.80" width="1.00" height="0.80" fill="#4caf50"/>
<rect x="744.00" y="418.50" width="1.00" height="26.00" fill="#ef5350"/>
<rect x="743.00" y="429.20" width="3.00" height="7.40" fill="#ef5350"/>
<rect x="744.00" y="430.20" width="1.00" height="5.40" fill="#f77c80"/>
<rect x="741.00" y="427.05" width="1.00" height="12.44" fill="#26a69a"/>
<rect x="740.00" y="429.40" width="3.00" height="9.50" fill="#26a69a"/>
<rect x="741.00" y="430.40" width="1.00" height="7.50" fill="#4caf50"/>
<rect x="738.00" y="429.12" width="1.00" height="10.13" fill="#ef5350"/>
<rect x="737.00" y="430.00" width="3.00" height="8.90" fill="#ef5350"/>
<rect x="738.00" y="431.00" width="1.00" height="6.90" fill="#f77c80"/>
<rect x="735.00" y="426.20" width="1.00" height="15.09" fill="#26a69a"/>
<rect x="734.00" y="430.00" width="3.00" height="8.50" fill="#26a69a"/>
<rect x="735.00" y="431.00" width="1.00" height="6.50" fill="#4caf50"/>
<rect x="732.00" y="433.40" width="1.00" height="9.80" fill="#ef5350"/>
<rect x="731.00" y="438.00" width="3.00" height="1.00" fill="#ef5350"/>
<rect x="728.00" y="435.30" width="1.00" height="17.70" fill="#26a69a"/>
<rect x="727.00" y="438.50" width="3.00" height="6.80" fill="#26a69a"/>
<rect x="728.00" y="439.50" width="1.00" height="4.80" fill="#4caf50"/>
<rect x="725.00" y="443.53" width="1.00" height="20.57" fill="#26a69a"/>
<rect x="724.00" y="445.30" width="3.00" height="15.30" fill="#26a69a"/>
<rect x="725.00" y="446.30" width="1.00" height="13.30" fill="#4caf50"/>
<rect x="722.00" y="459.55" width="1.00" height="1.74" fill="#ef5350"/>
<rect x="721.00" y="460.00" width="3.00" height="1.00" fill="#ef5350"/>
<rect x="719.00" y="458.90" width="1.00" height="7.37" fill="#26a69a"/>
<rect x="718.00" y="460.00" width="3.00" height="4.00" fill="#26a69a"/>
<rect x="719.00" y="461.00" width="1.00" height="2.00" fill="#4caf50"/>
<rect x="716.00" y="458.84" width="1.00" height="7.79" fill="#26a69a"/>
<rect x="715.00" y="463.50" width="3.00" height="1.00" fill="#26a69a"/>
<rect x="712.00" y="460.80" width="1.00" height="6.02" fill="#26a69a"/>
<rect x="711.00" y="464.00" width="3.00" height="1.00" fill="#26a69a"/>
<rect x="709.00" y="461.61" width="1.00" height="4.39" fill="#ef5350"/>
<rect x="708.00" y="463.50" width="3.00" height="1.00" fill="#ef5350"/>
<rect x="706.00" y="462.21" width="1.00" height="2.10" fill="#ef5350"/>
<rect x="705.00" y="462.50" width="3.00" height="1.00" fill="#ef5350"/>
<rect x="703.00" y="463.01" width="1.00" height="1.52" fill="#26a69a"/>
<rect x="702.00" y="463.50" width="3.00" height="1.00" fill="#26a69a"/>
<rect x="700.00" y="460.80" width="1.00" height="8.84" fill="#26a69a"/>
<rect x="699.00" y="464.50" width="3.00" height="5.10" fill="#26a69a"/>
<rect x="700.00" y="465.50" width="1.00" height="3.10" fill="#4caf50"/>
<rect x="696.00" y="468.00" width="1.00" height="6.66" fill="#26a69a"/>
<rect x="695.00" y="469.00" width="3.00" height="5.20" fill="#26a69a"/>
<rect x="696.00" y="470.00" width="1.00" height="3.20" fill="#4caf50"/>
<rect x="693.00" y="472.68" width="1.00" height="3.12" fill="#ef5350"/>
<rect x="692.00" y="473.00" width="3.00" height="1.00" fill="#ef5350"/>
<rect x="690.00" y="465.65" width="1.00" height="8.85" fill="#ef5350"/>
<rect x="689.00" y="467.40" width="3.00" height="6.20" fill="#ef5350"/>
<rect x="690.00" y="468.40" width="1.00" height="4.20" fill="#f77c80"/>
<rect x="687.00" y="460.20" width="1.00" height="12.03" fill="#ef5350"/>
<rect x="686.00" y="461.00" width="3.00" height="6.40" fill="#ef5350"/>
<rect x="687.00" y="462.00" width="1.00" height="4.40" fill="#f77c80"/>
<rect x="684.00" y="460.20" width="1.00" height="2.97" fill="#26a69a"/>
<rect x="683.00" y="461.50" width="3.00" height="1.00" fill="#26a69a"/>
<rect x="681.00" y="460.20" width="1.00" height="13.83" fill="#26a69a"/>
<rect x="680.00" y="462.30" width="3.00" height="7.30" fill="#26a69a"/>
<rect x="681.00" y="463.30" width="1.00" height="5.30" fill="#4caf50"/>
<rect x="677.00" y="467.30" width="1.00" height="12.66" fill="#26a69a"/>
<rect x="676.00" y="470.20" width="3.00" height="4.00" fill="#26a69a"/>
<rect x="677.00" y="471.20" width="1.00" height="2.00" fill="#4caf50"/>
<rect x="674.00" y="471.26" width="1.00" height="4.71" fill="#ef5350"/>
<rect x="673.00" y="474.50" width="3.00" height="1.00" fill="#ef5350"/>
<rect x="671.00" y="473.74" width="1.00" height="2.76" fill="#26a69a"/>
<rect x="670.00" y="474.00" width="3.00" height="1.00" fill="#26a69a"/>
<rect x="668.00" y="468.00" width="1.00" height="7.68" fill="#ef5350"/>
<rect x="667.00" y="469.00" width="3.00" height="6.30" fill="#ef5350"/>
<rect x="668.00" y="470.00" width="1.00" height="4.30" fill="#f77c80"/>
<rect x="665.00" y="460.20" width="1.00" height="15.00" fill="#ef5350"/>
<rect x="664.00" y="464.50" width="3.00" height="6.80" fill="#ef5350"/>
<rect x="665.00" y="465.50" width="1.00" height="4.80" fill="#f77c80"/>
<rect x="661.00" y="456.30" width="1.00" height="8.50" fill="#ef5350"/>
<rect x="660.00" y="462.30" width="3.00" height="2.20" fill="#ef5350"/>
<rect x="658.00" y="455.14" width="1.00" height="8.04" fill="#ef5350"/>
<rect x="657.00" y="455.50" width="3.00" height="7.30" fill="#ef5350"/>
<rect x="658.00" y="456.50" width="1.00" height="5.30" fill="#f77c80"/>
<rect x="655.00" y="453.10" width="1.00" height="8.94" fill="#26a69a"/>
<rect x="654.00" y="455.50" width="3.00" height="5.10" fill="#26a69a"/>
<rect x="655.00" y="456.50" width="1.00" height="3.10" fill="#4caf50"/>
<rect x="652.00" y="455.00" width="1.00" height="16.20" fill="#26a69a"/>
<rect x="651.00" y="460.60" width="3.00" height="9.60" fill="#26a69a"/>
<rect x="652.00" y="461.60" width="1.00" height="7.60" fill="#4caf50"/>
<rect x="649.00" y="466.60" width="1.00" height="13.87" fill="#26a69a"/>
<rect x="648.00" y="470.20" width="3.00" height="7.40" fill="#26a69a"/>
<rect x="649.00" y="471.20" width="1.00" height="5.40" fill="#4caf50"/>
<rect x="645.00" y="476.90" width="1.00" height="3.44" fill="#26a69a"/>
<rect x="644.00" y="477.60" width="3.00" height="1.60" fill="#26a69a"/>
<rect x="642.00" y="477.54" width="1.00" height="2.95" fill="#26a69a"/>
<rect x="641.00" y="479.20" width="3.00" height="1.20" fill="#26a69a"/>
<rect x="639.00" y="479.01" width="1.00" height="9.09" fill="#26a69a"/>
<rect x="638.00" y="480.40" width="3.00" height="4.60" fill="#26a69a"/>
<rect x="639.00" y="481.40" width="1.00" height="2.60" fill="#4caf50"/>
<rect x="636.00" y="480.24" width="1.00" height="6.36" fill="#ef5350"/>
<rect x="635.00" y="482.00" width="3.00" height="3.00" fill="#ef5350"/>
<rect x="636.00" y="483.00" width="1.00" height="1.00" fill="#f77c80"/>
<rect x="633.00" y="481.35" width="1.00" height="1.85" fill="#ef5350"/>
<rect x="632.00" y="482.00" width="3.00" height="1.00" fill="#ef5350"/>
<rect x="629.00" y="482.18" width="1.00" height="3.74" fill="#26a69a"/>
<rect x="628.00" y="483.80" width="3.00" height="1.70" fill="#26a69a"/>
<rect x="626.00" y="475.54" width="1.00" height="15.39" fill="#ef5350"/>
<rect x="625.00" y="478.00" width="3.00" height="7.50" fill="#ef5350"/>
<rect x="626.00" y="479.00" width="1.00" height="5.50" fill="#f77c80"/>
<rect x="623.00" y="476.98" width="1.00" height="2.04" fill="#ef5350"/>
<rect x="622.00" y="477.50" width="3.00" height="1.00" fill="#ef5350"/>
<rect x="620.00" y="473.23" width="1.00" height="6.16" fill="#ef5350"/>
<rect x="619.00" y="476.40" width="3.00" height="1.60" fill="#ef5350"/>
<rect x="617.00" y="475.81" width="1.00" height="1.33" fill="#26a69a"/>
<rect x="616.00" y="476.00" width="3.00" height="1.00" fill="#26a69a"/>
<rect x="614.00" y="473.39" width="1.00" height="7.22" fill="#ef5350"/>
<rect x="613.00" y="473.60" width="3.00" height="4.00" fill="#ef5350"/>
<rect x="614.00" y="474.60" width="1.00" height="2.00" fill="#f77c80"/>
<rect x="610.00" y="472.24" width="1.00" height="3.23" fill="#26a69a"/>
<rect x="609.00" y="474.00" width="3.00" height="1.30" fill="#26a69a"/>
<rect x="607.00" y="472.56" width="1.00" height="10.23" fill="#26a69a"/>
<rect x="606.00" y="474.70" width="3.00" height="3.30" fill="#26a69a"/>
<rect x="607.00" y="475.70" width="1.00" height="1.30" fill="#4caf50"/>
<rect x="604.00" y="476.79" width="1.00" height="4.10" fill="#26a69a"/>
<rect x="603.00" y="478.00" width="3.00" height="2.40" fill="#26a69a"/>
<rect x="601.00" y="473.05" width="1.00" height="7.55" fill="#ef5350"/>
<rect x="600.00" y="474.20" width="3.00" height="6.20" fill="#ef5350"/>
<rect x="601.00" y="475.20" width="1.00" height="4.20" fill="#f77c80"/>
<rect x="598.00" y="472.48" width="1.00" height="5.64" fill="#ef5350"/>
<rect x="597.00" y="472.50" width="3.00" height="1.70" fill="#ef5350"/>
<rect x="594.00" y="470.39" width="1.00" height="2.91" fill="#26a69a"/>
<rect x="593.00" y="471.50" width="3.00" height="1.00" fill="#26a69a"/>
<rect x="591.00" y="469.87" width="1.00" height="6.09" fill="#26a69a"/>
<rect x="590.00" y="473.00" width="3.00" height="2.30" fill="#26a69a"/>
<rect x="588.00" y="471.53" width="1.00" height="7.57" fill="#ef5350"/>
<rect x="587.00" y="474.00" width="3.00" height="3.00" fill="#ef5350"/>
<rect x="588.00" y="475.00" width="1.00" height="1.00" fill="#f77c80"/>
<rect x="585.00" y="474.94" width="1.00" height="8.10" fill="#26a69a"/>
<rect x="584.00" y="475.30" width="3.00" height="7.30" fill="#26a69a"/>
<rect x="585.00" y="476.30" width="1.00" height="5.30" fill="#4caf50"/>
<rect x="582.00" y="482.20" width="1.00" height="3.61" fill="#26a69a"/>
<rect x="581.00" y="482.60" width="3.00" height="2.90" fill="#26a69a"/>
<rect x="582.00" y="483.60" width="1.00" height="0.90" fill="#4caf50"/>
<rect x="578.00" y="484.13" width="1.00" height="4.17" fill="#ef5350"/>
<rect x="577.00" y="485.00" width="3.00" height="1.00" fill="#ef5350"/>
<rect x="575.00" y="481.64" width="1.00" height="4.51" fill="#ef5350"/>
<rect x="574.00" y="482.00" width="3.00" height="3.50" fill="#ef5350"/>
<rect x="575.00" y="483.00" width="1.00" height="1.50" fill="#f77c80"/>
<rect x="572.00" y="480.86" width="1.00" height="3.56" fill="#ef5350"/>
<rect x="571.00" y="481.00" width="3.00" height="1.00" fill="#ef5350"/>
<rect x="569.00" y="480.56" width="1.00" height="2.06" fill="#26a69a"/>
<rect x="568.00" y="481.00" width="3.00" height="1.00" fill="#26a69a"/>
<rect x="566.00" y="476.51" width="1.00" height="7.93" fill="#ef5350"/>
<rect x="565.00" y="477.60" width="3.00" height="3.90" fill="#ef5350"/>
<rect x="566.00" y="478.60" width="1.00" height="1.90" fill="#f77c80"/>
<rect x="563.00" y="469.97" width="1.00" height="11.41" fill="#ef5350"/>
<rect x="562.00" y="470.80" width="3.00" height="6.80" fill="#ef5350"/>
<rect x="563.00" y="471.80" width="1.00" height="4.80" fill="#f77c80"/>
<rect x="559.00" y="470.43" width="1.00" height="5.22" fill="#26a69a"/>
<rect x="558.00" y="471.30" width="3.00" height="3.40" fill="#26a69a"/>
<rect x="559.00" y="472.30" width="1.00" height="1.40" fill="#4caf50"/>
<rect x="556.00" y="470.37" width="1.00" height="4.35" fill="#ef5350"/>
<rect x="555.00" y="471.30" width="3.00" height="3.40" fill="#ef5350"/>
<rect x="556.00" y="472.30" width="1.00" height="1.40" fill="#f77c80"/>
<rect x="553.00" y="456.47" width="1.00" height="15.26" fill="#ef5350"/>
<rect x="552.00" y="457.70" width="3.00" height="13.60" fill="#ef5350"/>
<rect x="553.00" y="458.70" width="1.00" height="11.60" fill="#f77c80"/>
<rect x="550.00" y="456.00" width="1.00" height="2.86" fill="#ef5350"/>
<rect x="549.00" y="456.00" width="3.00" height="1.00" fill="#ef5350"/>
<rect x="547.00" y="452.33" width="1.00" height="5.17" fill="#ef5350"/>
<rect x="546.00" y="452.60" width="3.00" height="4.00" fill="#ef5350"/>
<rect x="547.00" y="453.60" width="1.00" height="2.00" fill="#f77c80"/>
<rect x="543.00" y="447.30" width="1.00" height="7.70" fill="#ef5350"/>
<rect x="542.00" y="449.20" width="3.00" height="4.60" fill="#ef5350"/>
<rect x="543.00" y="450.20" width="1.00" height="2.60" fill="#f77c80"/>
<rect x="540.00" y="447.50" width="1.00" height="3.22" fill="#ef5350"/>
<rect x="539.00" y="448.00" width="3.00" height="1.80" fill="#ef5350"/>
<rect x="537.00" y="444.84" width="1.00" height="5.27" fill="#ef5350"/>
<rect x="536.00" y="445.90" width="3.00" height="2.20" fill="#ef5350"/>
<rect x="534.00" y="445.86" width="1.00" height="2.14" fill="#26a69a"/>
<rect x="533.00" y="446.00" width="3.00" height="1.00" fill="#26a69a"/>
<rect x="531.00" y="442.59" width="1.00" height="4.27" fill="#ef5350"/>
<rect x="530.00" y="443.00" width="3.00" height="3.40" fill="#ef5350"/>
<rect x="531.00" y="444.00" width="1.00" height="1.40" fill="#f77c80"/>
<rect x="527.00" y="434.00" width="1.00" height="29.40" fill="#26a69a"/>
<rect x="526.00" y="443.00" width="3.00" height="14.70" fill="#26a69a"/>
<rect x="527.00" y="444.00" width="1.00" height="12.70" fill="#4caf50"/>
<rect x="524.00" y="452.36" width="1.00" height="5.77" fill="#ef5350"/>
<rect x="523.00" y="454.30" width="3.00" height="2.90" fill="#ef5350"/>
<rect x="524.00" y="455.30" width="1.00" height="0.90" fill="#f77c80"/>
<rect x="521.00" y="446.14" width="1.00" height="10.52" fill="#ef5350"/>
<rect x="520.00" y="447.50" width="3.00" height="6.80" fill="#ef5350"/>
<rect x="521.00" y="448.50" width="1.00" height="4.80" fill="#f77c80"/>
<rect x="518.00" y="437.58" width="1.00" height="13.25" fill="#ef5350"/>
<rect x="517.00" y="441.90" width="3.00" height="7.90" fill="#ef5350"/>
<rect x="518.00" y="442.90" width="1.00" height="5.90" fill="#f77c80"/>
<rect x="515.00" y="440.32" width="1.00" height="3.05" fill="#ef5350"/>
<rect x="514.00" y="441.50" width="3.00" height="1.00" fill="#ef5350"/>
<rect x="511.00" y="437.46" width="1.00" height="6.14" fill="#ef5350"/>
<rect x="510.00" y="438.50" width="3.00" height="3.40" fill="#ef5350"/>
<rect x="511.00" y="439.50" width="1.00" height="1.40" fill="#f77c80"/>
<rect x="508.00" y="434.72" width="1.00" height="7.83" fill="#ef5350"/>
<rect x="507.00" y="435.70" width="3.00" height="5.60" fill="#ef5350"/>
<rect x="508.00" y="436.70" width="1.00" height="3.60" fill="#f77c80"/>
<rect x="505.00" y="434.62" width="1.00" height="6.60" fill="#26a69a"/>
<rect x="504.00" y="435.50" width="3.00" height="1.90" fill="#26a69a"/>
<rect x="502.00" y="432.23" width="1.00" height="8.25" fill="#ef5350"/>
<rect x="501.00" y="434.00" width="3.00" height="3.40" fill="#ef5350"/>
<rect x="502.00" y="435.00" width="1.00" height="1.40" fill="#f77c80"/>
<rect x="499.00" y="429.82" width="1.00" height="5.07" fill="#26a69a"/>
<rect x="498.00" y="433.50" width="3.00" height="1.00" fill="#26a69a"/>
<rect x="496.00" y="433.45" width="1.00" height="5.74" fill="#26a69a"/>
<rect x="495.00" y="434.50" width="3.00" height="1.00" fill="#26a69a"/>
<rect x="492.00" y="430.78" width="1.00" height="5.63" fill="#ef5350"/>
<rect x="491.00" y="433.40" width="3.00" height="2.80" fill="#ef5350"/>
<rect x="492.00" y="434.40" width="1.00" height="0.80" fill="#f77c80"/>
<rect x="489.00" y="420.40" width="1.00" height="13.20" fill="#ef5350"/>
<rect x="488.00" y="429.40" width="3.00" height="4.00" fill="#ef5350"/>
<rect x="489.00" y="430.40" width="1.00" height="2.00" fill="#f77c80"/>
<rect x="486.00" y="428.34" width="1.00" height="8.59" fill="#26a69a"/>
<rect x="485.00" y="429.40" width="3.00" height="7.40" fill="#26a69a"/>
<rect x="486.00" y="430.40" width="1.00" height="5.40" fill="#4caf50"/>
<rect x="483.00" y="436.30" width="1.00" height="8.53" fill="#26a69a"/>
<rect x="482.00" y="436.80" width="3.00" height="7.90" fill="#26a69a"/>
<rect x="483.00" y="437.80" width="1.00" height="5.90" fill="#4caf50"/>
<rect x="480.00" y="442.64" width="1.00" height="4.24" fill="#ef5350"/>
<rect x="479.00" y="444.00" width="3.00" height="1.00" fill="#ef5350"/>
<rect x="476.00" y="435.32" width="1.00" height="9.65" fill="#ef5350"/>
<rect x="475.00" y="439.00" width="3.00" height="5.70" fill="#ef5350"/>
<rect x="476.00" y="440.00" width="1.00" height="3.70" fill="#f77c80"/>
<rect x="473.00" y="437.42" width="1.00" height="3.94" fill="#26a69a"/>
<rect x="472.00" y="439.00" width="3.00" height="1.00" fill="#26a69a"/>
<rect x="470.00" y="422.79" width="1.00" height="23.65" fill="#ef5350"/>
<rect x="469.00" y="423.20" width="3.00" height="17.60" fill="#ef5350"/>
<rect x="470.00" y="424.20" width="1.00" height="15.60" fill="#f77c80"/>
<rect x="467.00" y="414.00" width="1.00" height="22.17" fill="#26a69a"/>
<rect x="466.00" y="423.20" width="3.00" height="6.80" fill="#26a69a"/>
<rect x="467.00" y="424.20" width="1.00" height="4.80" fill="#4caf50"/>
<rect x="464.00" y="429.50" width="1.00" height="16.86" fill="#26a69a"/>
<rect x="463.00" y="430.00" width="3.00" height="10.20" fill="#26a69a"/>
<rect x="464.00" y="431.00" width="1.00" height="8.20" fill="#4caf50"/>
<rect x="460.00" y="438.23" width="1.00" height="22.98" fill="#26a69a"/>
<rect x="459.00" y="439.60" width="3.00" height="19.80" fill="#26a69a"/>
<rect x="460.00" y="440.60" width="1.00" height="17.80" fill="#4caf50"/>
<rect x="457.00" y="453.21" width="1.00" height="8.28" fill="#ef5350"/>
<rect x="456.00" y="458.45" width="3.00" height="1.00" fill="#ef5350"/>
<rect x="454.00" y="453.53" width="1.00" height="6.73" fill="#ef5350"/>
<rect x="453.00" y="453.80" width="3.00" height="5.60" fill="#ef5350"/>
<rect x="454.00" y="454.80" width="1.00" height="3.60" fill="#f77c80"/>
<rect x="451.00" y="450.50" width="1.00" height="5.07" fill="#ef5350"/>
<rect x="450.00" y="451.50" width="3.00" height="3.50" fill="#ef5350"/>
<rect x="451.00" y="452.50" width="1.00" height="1.50" fill="#f77c80"/>
<rect x="448.00" y="443.83" width="1.00" height="8.33" fill="#ef5350"/>
<rect x="447.00" y="444.20" width="3.00" height="7.30" fill="#ef5350"/>
<rect x="448.00" y="445.20" width="1.00" height="5.30" fill="#f77c80"/>
<rect x="444.00" y="437.64" width="1.00" height="6.59" fill="#ef5350"/>
<rect x="443.00" y="439.60" width="3.00" height="4.60" fill="#ef5350"/>
<rect x="444.00" y="440.60" width="1.00" height="2.60" fill="#f77c80"/>
<rect x="441.00" y="438.99" width="1.00" height="2.74" fill="#26a69a"/>
<rect x="440.00" y="440.00" width="3.00" height="1.00" fill="#26a69a"/>
<rect x="438.00" y="440.77" width="1.00" height="4.52" fill="#26a69a"/>
<rect x="437.00" y="440.80" width="3.00" height="3.90" fill="#26a69a"/>
<rect x="438.00" y="441.80" width="1.00" height="1.90" fill="#4caf50"/>
<rect x="435.00" y="442.30" width="1.00" height="3.09" fill="#26a69a"/>
<rect x="434.00" y="443.50" width="3.00" height="1.00" fill="#26a69a"/>
<rect x="432.00" y="443.92" width="1.00" height="6.24" fill="#26a69a"/>
<rect x="431.00" y="444.00" width="3.00" height="1.00" fill="#26a69a"/>
<rect x="429.00" y="432.62" width="1.00" height="20.36" fill="#ef5350"/>
<rect x="428.00" y="435.70" width="3.00" height="10.20" fill="#ef5350"/>
<rect x="429.00" y="436.70" width="1.00" height="8.20" fill="#f77c80"/>
<rect x="425.00" y="433.23" width="1.00" height="4.64" fill="#ef5350"/>
<rect x="424.00" y="433.40" width="3.00" height="4.00" fill="#ef5350"/>
<rect x="425.00" y="434.40" width="1.00" height="2.00" fill="#f77c80"/>
<rect x="422.00" y="429.94" width="1.00" height="5.72" fill="#ef5350"/>
<rect x="421.00" y="430.00" width="3.00" height="3.40" fill="#ef5350"/>
<rect x="422.00" y="431.00" width="1.00" height="1.40" fill="#f77c80"/>
<rect x="419.00" y="429.43" width="1.00" height="8.22" fill="#26a69a"/>
<rect x="418.00" y="430.00" width="3.00" height="7.40" fill="#26a69a"/>
<rect x="419.00" y="431.00" width="1.00" height="5.40" fill="#4caf50"/>
<rect x="416.00" y="436.44" width="1.00" height="21.26" fill="#26a69a"/>
<rect x="415.00" y="437.40" width="3.00" height="7.30" fill="#26a69a"/>
<rect x="416.00" y="438.40" width="1.00" height="5.30" fill="#4caf50"/>
<rect x="413.00" y="409.89" width="1.00" height="40.33" fill="#ef5350"/>
<rect x="412.00" y="418.00" width="3.00" height="26.50" fill="#ef5350"/>
<rect x="413.00" y="419.00" width="1.00" height="24.50" fill="#f77c80"/>
<rect x="409.00" y="415.25" width="1.00" height="2.99" fill="#ef5350"/>
<rect x="408.00" y="415.70" width="3.00" height="2.30" fill="#ef5350"/>
<rect x="406.00" y="394.72" width="1.00" height="25.12" fill="#ef5350"/>
<rect x="405.00" y="401.40" width="3.00" height="16.20" fill="#ef5350"/>
<rect x="406.00" y="402.40" width="1.00" height="14.20" fill="#f77c80"/>
<rect x="403.00" y="386.61" width="1.00" height="15.01" fill="#ef5350"/>
<rect x="402.00" y="389.50" width="3.00" height="11.90" fill="#ef5350"/>
<rect x="403.00" y="390.50" width="1.00" height="9.90" fill="#f77c80"/>
<rect x="400.00" y="365.80" width="1.00" height="27.70" fill="#ef5350"/>
<rect x="399.00" y="366.00" width="3.00" height="23.50" fill="#ef5350"/>
<rect x="400.00" y="367.00" width="1.00" height="21.50" fill="#f77c80"/>
<rect x="397.00" y="364.91" width="1.00" height="5.74" fill="#26a69a"/>
<rect x="396.00" y="366.00" width="3.00" height="4.50" fill="#26a69a"/>
<rect x="397.00" y="367.00" width="1.00" height="2.50" fill="#4caf50"/>
<rect x="393.00" y="348.21" width="1.00" height="25.10" fill="#ef5350"/>
<rect x="392.00" y="356.00" width="3.00" height="14.50" fill="#ef5350"/>
<rect x="393.00" y="357.00" width="1.00" height="12.50" fill="#f77c80"/>
<rect x="390.00" y="323.62" width="1.00" height="34.13" fill="#ef5350"/>
<rect x="389.00" y="330.00" width="3.00" height="27.40" fill="#ef5350"/>
<rect x="390.00" y="331.00" width="1.00" height="25.40" fill="#f77c80"/>
<rect x="387.00" y="319.48" width="1.00" height="10.69" fill="#ef5350"/>
<rect x="386.00" y="324.00" width="3.00" height="6.00" fill="#ef5350"/>
<rect x="387.00" y="325.00" width="1.00" height="4.00" fill="#f77c80"/>
<rect x="384.00" y="319.55" width="1.00" height="10.60" fill="#26a69a"/>
<rect x="383.00" y="324.00" width="3.00" height="4.80" fill="#26a69a"/>
<rect x="384.00" y="325.00" width="1.00" height="2.80" fill="#4caf50"/>
<rect x="381.00" y="319.45" width="1.00" height="11.39" fill="#ef5350"/>
<rect x="380.00" y="320.50" width="3.00" height="8.30" fill="#ef5350"/>
<rect x="381.00" y="321.50" width="1.00" height="6.30" fill="#f77c80"/>
<rect x="377.00" y="302.54" width="1.00" height="18.83" fill="#ef5350"/>
<rect x="376.00" y="309.80" width="3.00" height="10.70" fill="#ef5350"/>
<rect x="377.00" y="310.80" width="1.00" height="8.70" fill="#f77c80"/>
<rect x="374.00" y="305.66" width="1.00" height="8.16" fill="#ef5350"/>
<rect x="373.00" y="306.00" width="3.00" height="6.00" fill="#ef5350"/>
<rect x="374.00" y="307.00" width="1.00" height="4.00" fill="#f77c80"/>
<rect x="371.00" y="301.88" width="1.00" height="9.43" fill="#ef5350"/>
<rect x="370.00" y="302.60" width="3.00" height="8.40" fill="#ef5350"/>
<rect x="371.00" y="303.60" width="1.00" height="6.40" fill="#f77c80"/>
<rect x="368.00" y="302.58" width="1.00" height="23.42" fill="#26a69a"/>
<rect x="367.00" y="303.00" width="3.00" height="5.30" fill="#26a69a"/>
<rect x="368.00" y="304.00" width="1.00" height="3.30" fill="#4caf50"/>
<rect x="365.00" y="291.83" width="1.00" height="23.17" fill="#ef5350"/>
<rect x="364.00" y="292.00" width="3.00" height="16.30" fill="#ef5350"/>
<rect x="365.00" y="293.00" width="1.00" height="14.30" fill="#f77c80"/>
<rect x="362.00" y="285.00" width="1.00" height="8.48" fill="#ef5350"/>
<rect x="361.00" y="292.00" width="3.00" height="1.00" fill="#ef5350"/>
<rect x="358.00" y="288.00" width="1.00" height="8.89" fill="#26a69a"/>
<rect x="357.00" y="292.00" width="3.00" height="4.00" fill="#26a69a"/>
<rect x="358.00" y="293.00" width="1.00" height="2.00" fill="#4caf50"/>
<rect x="355.00" y="294.50" width="1.00" height="34.37" fill="#26a69a"/>
<rect x="354.00" y="296.00" width="3.00" height="27.00" fill="#26a69a"/>
<rect x="355.00" y="297.00" width="1.00" height="25.00" fill="#4caf50"/>
<rect x="352.00" y="322.17" width="1.00" height="11.83" fill="#26a69a"/>
<rect x="351.00" y="323.00" width="3.00" height="7.00" fill="#26a69a"/>
<rect x="352.00" y="324.00" width="1.00" height="5.00" fill="#4caf50"/>
<rect x="349.00" y="327.63" width="1.00" height="11.97" fill="#26a69a"/>
<rect x="348.00" y="330.00" width="3.00" height="20.50" fill="#26a69a"/>
<rect x="349.00" y="331.00" width="1.00" height="18.50" fill="#4caf50"/>
<rect x="346.00" y="349.88" width="1.00" height="20.97" fill="#26a69a"/>
<rect x="345.00" y="350.50" width="3.00" height="19.00" fill="#26a69a"/>
<rect x="346.00" y="351.50" width="1.00" height="17.00" fill="#4caf50"/>
<rect x="342.00" y="369.46" width="1.00" height="7.54" fill="#26a69a"/>
<rect x="341.00" y="369.50" width="3.00" height="5.50" fill="#26a69a"/>
<rect x="342.00" y="370.50" width="1.00" height="3.50" fill="#4caf50"/>
<rect x="339.00" y="355.09" width="1.00" height="22.61" fill="#ef5350"/>
<rect x="338.00" y="356.00" width="3.00" height="19.00" fill="#ef5350"/>
<rect x="339.00" y="357.00" width="1.00" height="17.00" fill="#f77c80"/>
<rect x="336.00" y="346.36" width="1.00" height="12.91" fill="#ef5350"/>
<rect x="335.00" y="346.40" width="3.00" height="9.60" fill="#ef5350"/>
<rect x="336.00" y="347.40" width="1.00" height="7.60" fill="#f77c80"/>
<rect x="333.00" y="311.00" width="1.00" height="38.78" fill="#ef5350"/>
<rect x="332.00" y="316.50" width="3.00" height="29.90" fill="#ef5350"/>
<rect x="333.00" y="317.50" width="1.00" height="27.90" fill="#f77c80"/>
<rect x="330.00" y="303.00" width="1.00" height="21.60" fill="#26a69a"/>
<rect x="329.00" y="316.00" width="3.00" height="1.00" fill="#26a69a"/>
<rect x="326.00" y="274.00" width="1.00" height="44.87" fill="#ef5350"/>
<rect x="325.00" y="279.70" width="3.00" height="38.10" fill="#ef5350"/>
<rect x="326.00" y="280.70" width="1.00" height="36.10" fill="#f77c80"/>
<rect x="323.00" y="277.57" width="1.00" height="51.13" fill="#26a69a"/>
<rect x="322.00" y="279.00" width="3.00" height="1.00" fill="#26a69a"/>
<rect x="320.00" y="233.50" width="1.00" height="51.50" fill="#ef5350"/>
<rect x="319.00" y="243.00" width="3.00" height="38.00" fill="#ef5350"/>
<rect x="320.00" y="244.00" width="1.00" height="36.00" fill="#f77c80"/>
<rect x="317.00" y="234.56" width="1.00" height="17.94" fill="#ef5350"/>
<rect x="316.00" y="241.60" width="3.00" height="2.80" fill="#ef5350"/>
<rect x="317.00" y="242.60" width="1.00" height="0.80" fill="#f77c80"/>
<rect x="314.00" y="175.00" width="1.00" height="66.98" fill="#ef5350"/>
<rect x="313.00" y="229.40" width="3.00" height="12.20" fill="#ef5350"/>
<rect x="314.00" y="230.40" width="1.00" height="10.20" fill="#f77c80"/>
<rect x="310.00" y="219.68" width="1.00" height="55.92" fill="#26a69a"/>
<rect x="309.00" y="229.40" width="3.00" height="42.20" fill="#26a69a"/>
<rect x="310.00" y="230.40" width="1.00" height="40.20" fill="#4caf50"/>
<rect x="307.00" y="243.25" width="1.00" height="56.75" fill="#ef5350"/>
<rect x="306.00" y="245.70" width="3.00" height="25.90" fill="#ef5350"/>
<rect x="307.00" y="246.70" width="1.00" height="23.90" fill="#f77c80"/>
<rect x="304.00" y="241.60" width="1.00" height="98.64" fill="#26a69a"/>
<rect x="303.00" y="245.70" width="3.00" height="88.30" fill="#26a69a"/>
<rect x="304.00" y="246.70" width="1.00" height="86.30" fill="#4caf50"/>
<rect x="301.00" y="324.37" width="1.00" height="58.31" fill="#26a69a"/>
<rect x="300.00" y="334.00" width="3.00" height="46.00" fill="#26a69a"/>
<rect x="301.00" y="335.00" width="1.00" height="44.00" fill="#4caf50"/>
<rect x="298.00" y="378.15" width="1.00" height="18.89" fill="#26a69a"/>
<rect x="297.00" y="380.00" width="3.00" height="14.00" fill="#26a69a"/>
<rect x="298.00" y="381.00" width="1.00" height="12.00" fill="#4caf50"/>
<rect x="295.00" y="384.00" width="1.00" height="54.00" fill="#26a69a"/>
<rect x="294.00" y="394.00" width="3.00" height="34.00" fill="#26a69a"/>
<rect x="295.00" y="395.00" width="1.00" height="32.00" fill="#4caf50"/>
<rect x="291.00" y="426.69" width="1.00" height="31.31" fill="#26a69a"/>
<rect x="290.00" y="428.00" width="3.00" height="24.30" fill="#26a69a"/>
<rect x="291.00" y="429.00" width="1.00" height="22.30" fill="#4caf50"/>
<rect x="288.00" y="408.08" width="1.00" height="59.82" fill="#ef5350"/>
<rect x="287.00" y="415.50" width="3.00" height="36.80" fill="#ef5350"/>
<rect x="288.00" y="416.50" width="1.00" height="34.80" fill="#f77c80"/>
<rect x="285.00" y="384.13" width="1.00" height="35.87" fill="#ef5350"/>
<rect x="284.00" y="388.50" width="3.00" height="27.00" fill="#ef5350"/>
<rect x="285.00" y="389.50" width="1.00" height="25.00" fill="#f77c80"/>
<rect x="282.00" y="363.00" width="1.00" height="48.45" fill="#26a69a"/>
<rect x="281.00" y="388.50" width="3.00" height="19.90" fill="#26a69a"/>
<rect x="282.00" y="389.50" width="1.00" height="17.90" fill="#4caf50"/>
<rect x="279.00" y="382.55" width="1.00" height="34.45" fill="#ef5350"/>
<rect x="278.00" y="384.30" width="3.00" height="24.10" fill="#ef5350"/>
<rect x="279.00" y="385.30" width="1.00" height="22.10" fill="#f77c80"/>
<rect x="275.00" y="378.60" width="1.00" height="42.91" fill="#26a69a"/>
<rect x="274.00" y="384.30" width="3.00" height="35.40" fill="#26a69a"/>
<rect x="275.00" y="385.30" width="1.00" height="33.40" fill="#4caf50"/>
<rect x="272.00" y="392.60" width="1.00" height="32.40" fill="#ef5350"/>
<rect x="271.00" y="392.80" width="3.00" height="26.90" fill="#ef5350"/>
<rect x="272.00" y="393.80" width="1.00" height="24.90" fill="#f77c80"/>
<rect x="269.00" y="373.00" width="1.00" height="28.00" fill="#26a69a"/>
<rect x="268.00" y="391.00" width="3.00" height="1.00" fill="#26a69a"/>
<rect x="266.00" y="363.97" width="1.00" height="30.03" fill="#ef5350"/>
<rect x="265.00" y="364.50" width="3.00" height="28.30" fill="#ef5350"/>
<rect x="266.00" y="365.50" width="1.00" height="26.30" fill="#f77c80"/>
<rect x="263.00" y="340.14" width="1.00" height="27.60" fill="#ef5350"/>
<rect x="262.00" y="340.40" width="3.00" height="22.60" fill="#ef5350"/>
<rect x="263.00" y="341.40" width="1.00" height="20.60" fill="#f77c80"/>
<rect x="259.00" y="334.04" width="1.00" height="17.96" fill="#ef5350"/>
<rect x="258.00" y="334.70" width="3.00" height="5.70" fill="#ef5350"/>
<rect x="259.00" y="335.70" width="1.00" height="3.70" fill="#f77c80"/>
<rect x="256.00" y="311.34" width="1.00" height="23.68" fill="#ef5350"/>
<rect x="255.00" y="312.00" width="3.00" height="22.70" fill="#ef5350"/>
<rect x="256.00" y="313.00" width="1.00" height="20.70" fill="#f77c80"/>
<rect x="253.00" y="305.59" width="1.00" height="33.53" fill="#26a69a"/>
<rect x="252.00" y="312.00" width="3.00" height="20.00" fill="#26a69a"/>
<rect x="253.00" y="313.00" width="1.00" height="18.00" fill="#4caf50"/>
<rect x="250.00" y="323.00" width="1.00" height="23.00" fill="#ef5350"/>
<rect x="249.00" y="330.00" width="3.00" height="1.00" fill="#ef5350"/>
<rect x="247.00" y="311.41" width="1.00" height="34.59" fill="#ef5350"/>
<rect x="246.00" y="315.00" width="3.00" height="17.00" fill="#ef5350"/>
<rect x="247.00" y="316.00" width="1.00" height="15.00" fill="#f77c80"/>
<rect x="243.00" y="288.00" width="1.00" height="27.99" fill="#ef5350"/>
<rect x="242.00" y="302.00" width="3.00" height="13.00" fill="#ef5350"/>
<rect x="243.00" y="303.00" width="1.00" height="11.00" fill="#f77c80"/>
<rect x="240.00" y="276.70" width="1.00" height="48.30" fill="#26a69a"/>
<rect x="239.00" y="302.00" width="3.00" height="23.00" fill="#26a69a"/>
<rect x="240.00" y="303.00" width="1.00" height="21.00" fill="#4caf50"/>
<rect x="237.00" y="319.98" width="1.00" height="5.79" fill="#ef5350"/>
<rect x="236.00" y="320.60" width="3.00" height="4.40" fill="#ef5350"/>
<rect x="237.00" y="321.60" width="1.00" height="2.40" fill="#f77c80"/>
<rect x="234.00" y="263.00" width="1.00" height="59.78" fill="#ef5350"/>
<rect x="233.00" y="300.70" width="3.00" height="19.90" fill="#ef5350"/>
<rect x="234.00" y="301.70" width="1.00" height="17.90" fill="#f77c80"/>
<rect x="231.00" y="287.40" width="1.00" height="51.60" fill="#26a69a"/>
<rect x="230.00" y="300.70" width="3.00" height="31.30" fill="#26a69a"/>
<rect x="231.00" y="301.70" width="1.00" height="29.30" fill="#4caf50"/>
<rect x="228.00" y="291.12" width="1.00" height="56.38" fill="#ef5350"/>
<rect x="227.00" y="292.00" width="3.00" height="40.00" fill="#ef5350"/>
<rect x="228.00" y="293.00" width="1.00" height="38.00" fill="#f77c80"/>
<rect x="224.00" y="219.00" width="1.00" height="78.92" fill="#26a69a"/>
<rect x="223.00" y="292.00" width="3.00" height="4.50" fill="#26a69a"/>
<rect x="224.00" y="293.00" width="1.00" height="2.50" fill="#4caf50"/>
<rect x="221.00" y="252.30" width="1.00" height="62.70" fill="#ef5350"/>
<rect x="220.00" y="254.00" width="3.00" height="42.50" fill="#ef5350"/>
<rect x="221.00" y="255.00" width="1.00" height="40.50" fill="#f77c80"/>
<rect x="218.00" y="188.60" width="1.00" height="75.40" fill="#ef5350"/>
<rect x="217.00" y="198.60" width="3.00" height="55.40" fill="#ef5350"/>
<rect x="218.00" y="199.60" width="1.00" height="53.40" fill="#f77c80"/>
<rect x="215.00" y="158.00" width="1.00" height="89.00" fill="#ef5350"/>
<rect x="214.00" y="186.70" width="3.00" height="11.90" fill="#ef5350"/>
<rect x="215.00" y="187.70" width="1.00" height="9.90" fill="#f77c80"/>
<rect x="212.00" y="95.00" width="1.00" height="99.40" fill="#ef5350"/>
<rect x="211.00" y="102.00" width="3.00" height="84.70" fill="#ef5350"/>
<rect x="212.00" y="103.00" width="1.00" height="82.70" fill="#f77c80"/>
<rect x="208.00" y="80.00" width="1.00" height="121.58" fill="#26a69a"/>
<rect x="207.00" y="102.00" width="3.00" height="96.60" fill="#26a69a"/>
<rect x="208.00" y="103.00" width="1.00" height="94.60" fill="#4caf50"/>
<rect x="205.00" y="178.00" width="1.00" height="84.00" fill="#26a69a"/>
<rect x="204.00" y="198.60" width="3.00" height="53.40" fill="#26a69a"/>
<rect x="205.00" y="199.60" width="1.00" height="51.40" fill="#4caf50"/>
<rect x="202.00" y="222.40" width="1.00" height="88.05" fill="#26a69a"/>
<rect x="201.00" y="252.00" width="3.00" height="56.00" fill="#26a69a"/>
<rect x="202.00" y="253.00" width="1.00" height="54.00" fill="#4caf50"/>
<rect x="199.00" y="305.97" width="1.00" height="5.73" fill="#26a69a"/>
<rect x="198.00" y="307.00" width="3.00" height="4.70" fill="#26a69a"/>
<rect x="199.00" y="308.00" width="1.00" height="2.70" fill="#4caf50"/>
<rect x="196.00" y="307.90" width="1.00" height="84.70" fill="#26a69a"/>
<rect x="195.00" y="311.70" width="3.00" height="77.30" fill="#26a69a"/>
<rect x="196.00" y="312.70" width="1.00" height="75.30" fill="#4caf50"/>
<rect x="192.00" y="363.11" width="1.00" height="38.89" fill="#ef5350"/>
<rect x="191.00" y="365.00" width="3.00" height="17.00" fill="#ef5350"/>
<rect x="192.00" y="366.00" width="1.00" height="15.00" fill="#f77c80"/>
<rect x="189.00" y="348.60" width="1.00" height="18.71" fill="#26a69a"/>
<rect x="188.00" y="363.00" width="3.00" height="3.00" fill="#26a69a"/>
<rect x="189.00" y="364.00" width="1.00" height="1.00" fill="#4caf50"/>
<rect x="186.00" y="363.69" width="1.00" height="62.31" fill="#26a69a"/>
<rect x="185.00" y="365.00" width="3.00" height="55.00" fill="#26a69a"/>
<rect x="186.00" y="366.00" width="1.00" height="53.00" fill="#4caf50"/>
<rect x="183.00" y="413.00" width="1.00" height="12.00" fill="#ef5350"/>
<rect x="182.00" y="416.40" width="3.00" height="2.40" fill="#ef5350"/>
<rect x="180.00" y="414.66" width="1.00" height="16.75" fill="#26a69a"/>
<rect x="179.00" y="416.40" width="3.00" height="15.00" fill="#26a69a"/>
<rect x="180.00" y="417.40" width="1.00" height="13.00" fill="#4caf50"/>
<rect x="176.00" y="406.60" width="1.00" height="26.40" fill="#ef5350"/>
<rect x="175.00" y="407.60" width="3.00" height="24.40" fill="#ef5350"/>
<rect x="176.00" y="408.60" width="1.00" height="22.40" fill="#f77c80"/>
<rect x="173.00" y="380.70" width="1.00" height="27.62" fill="#ef5350"/>
<rect x="172.00" y="383.00" width="3.00" height="25.00" fill="#ef5350"/>
<rect x="173.00" y="384.00" width="1.00" height="23.00" fill="#f77c80"/>
<rect x="170.00" y="368.80" width="1.00" height="56.00" fill="#26a69a"/>
<rect x="169.00" y="383.00" width="3.00" height="26.30" fill="#26a69a"/>
<rect x="170.00" y="384.00" width="1.00" height="24.30" fill="#4caf50"/>
<rect x="167.00" y="406.04" width="1.00" height="74.25" fill="#26a69a"/>
<rect x="166.00" y="409.50" width="3.00" height="70.50" fill="#26a69a"/>
<rect x="167.00" y="410.50" width="1.00" height="68.50" fill="#4caf50"/>
<rect x="164.00" y="479.96" width="1.00" height="12.72" fill="#26a69a"/>
<rect x="163.00" y="480.00" width="3.00" height="12.00" fill="#26a69a"/>
<rect x="164.00" y="481.00" width="1.00" height="10.00" fill="#4caf50"/>
<rect x="161.00" y="491.60" width="1.00" height="10.24" fill="#26a69a"/>
<rect x="160.00" y="492.00" width="3.00" height="8.50" fill="#26a69a"/>
<rect x="161.00" y="493.00" width="1.00" height="6.50" fill="#4caf50"/>
<rect x="157.00" y="499.23" width="1.00" height="2.91" fill="#26a69a"/>
<rect x="156.00" y="499.90" width="3.00" height="1.00" fill="#26a69a"/>
<rect x="154.00" y="499.42" width="1.00" height="4.84" fill="#26a69a"/>
<rect x="153.00" y="500.50" width="3.00" height="2.50" fill="#26a69a"/>
<rect x="151.00" y="500.45" width="1.00" height="3.29" fill="#26a69a"/>
<rect x="150.00" y="502.30" width="3.00" height="1.00" fill="#26a69a"/>
<rect x="148.00" y="502.15" width="1.00" height="5.01" fill="#ef5350"/>
<rect x="147.00" y="502.50" width="3.00" height="1.00" fill="#ef5350"/>
<rect x="145.00" y="501.86" width="1.00" height="2.28" fill="#ef5350"/>
<rect x="144.00" y="502.00" width="3.00" height="1.00" fill="#ef5350"/>
<rect x="141.00" y="500.59" width="1.00" height="1.95" fill="#ef5350"/>
<rect x="140.00" y="501.50" width="3.00" height="1.00" fill="#ef5350"/>
<rect x="138.00" y="499.26" width="1.00" height="5.88" fill="#26a69a"/>
<rect x="137.00" y="501.00" width="3.00" height="2.00" fill="#26a69a"/>
<rect x="135.00" y="501.53" width="1.00" height="12.44" fill="#26a69a"/>
<rect x="134.00" y="503.00" width="3.00" height="9.00" fill="#26a69a"/>
<rect x="135.00" y="504.00" width="1.00" height="7.00" fill="#4caf50"/>
<rect x="132.00" y="509.62" width="1.00" height="4.38" fill="#26a69a"/>
<rect x="131.00" y="511.00" width="3.00" height="1.00" fill="#26a69a"/>
<rect x="129.00" y="507.13" width="1.00" height="5.71" fill="#ef5350"/>
<rect x="128.00" y="507.30" width="3.00" height="4.70" fill="#ef5350"/>
<rect x="129.00" y="508.30" width="1.00" height="2.70" fill="#f77c80"/>
<rect x="125.00" y="503.90" width="1.00" height="5.19" fill="#ef5350"/>
<rect x="124.00" y="504.60" width="3.00" height="2.70" fill="#ef5350"/>
<rect x="125.00" y="505.60" width="1.00" height="0.70" fill="#f77c80"/>
<rect x="122.00" y="503.47" width="1.00" height="5.18" fill="#26a69a"/>
<rect x="121.00" y="505.00" width="3.00" height="2.00" fill="#26a69a"/>
<rect x="119.00" y="499.33" width="1.00" height="10.95" fill="#ef5350"/>
<rect x="118.00" y="500.50" width="3.00" height="6.80" fill="#ef5350"/>
<rect x="119.00" y="501.50" width="1.00" height="4.80" fill="#f77c80"/>
<rect x="116.00" y="496.61" width="1.00" height="5.11" fill="#ef5350"/>
<rect x="115.00" y="497.80" width="3.00" height="2.70" fill="#ef5350"/>
<rect x="116.00" y="498.80" width="1.00" height="0.70" fill="#f77c80"/>
<rect x="113.00" y="494.11" width="1.00" height="3.73" fill="#ef5350"/>
<rect x="112.00" y="494.40" width="3.00" height="3.40" fill="#ef5350"/>
<rect x="113.00" y="495.40" width="1.00" height="1.40" fill="#f77c80"/>
<rect x="109.00" y="490.84" width="1.00" height="4.07" fill="#ef5350"/>
<rect x="108.00" y="491.00" width="3.00" height="3.40" fill="#ef5350"/>
<rect x="109.00" y="492.00" width="1.00" height="1.40" fill="#f77c80"/>
<rect x="106.00" y="489.57" width="1.00" height="6.27" fill="#ef5350"/>
<rect x="105.00" y="489.70" width="3.00" height="4.00" fill="#ef5350"/>
<rect x="106.00" y="490.70" width="1.00" height="2.00" fill="#f77c80"/>
<rect x="103.00" y="481.83" width="1.00" height="9.29" fill="#ef5350"/>
<rect x="102.00" y="483.00" width="3.00" height="6.70" fill="#ef5350"/>
<rect x="103.00" y="484.00" width="1.00" height="4.70" fill="#f77c80"/>
<rect x="100.00" y="481.02" width="1.00" height="3.13" fill="#ef5350"/>
<rect x="99.00" y="482.00" width="3.00" height="1.00" fill="#ef5350"/>
<rect x="97.00" y="478.74" width="1.00" height="3.26" fill="#ef5350"/>
<rect x="96.00" y="479.50" width="3.00" height="2.50" fill="#ef5350"/>
<rect x="94.00" y="470.64" width="1.00" height="10.90" fill="#ef5350"/>
<rect x="93.00" y="473.00" width="3.00" height="6.50" fill="#ef5350"/>
<rect x="94.00" y="474.00" width="1.00" height="4.50" fill="#f77c80"/>
<rect x="90.00" y="471.76" width="1.00" height="2.55" fill="#ef5350"/>
<rect x="89.00" y="472.50" width="3.00" height="1.00" fill="#ef5350"/>
<rect x="87.00" y="466.00" width="1.00" height="13.02" fill="#26a69a"/>
<rect x="86.00" y="473.20" width="3.00" height="4.40" fill="#26a69a"/>
<rect x="87.00" y="474.20" width="1.00" height="2.40" fill="#4caf50"/>
<rect x="84.00" y="477.52" width="1.00" height="4.43" fill="#26a69a"/>
<rect x="83.00" y="477.60" width="3.00" height="2.80" fill="#26a69a"/>
<rect x="84.00" y="478.60" width="1.00" height="0.80" fill="#4caf50"/>
<rect x="81.00" y="479.05" width="1.00" height="1.37" fill="#26a69a"/>
<rect x="80.00" y="479.35" width="3.00" height="1.00" fill="#26a69a"/>
<rect x="78.00" y="479.29" width="1.00" height="2.64" fill="#26a69a"/>
<rect x="77.00" y="479.60" width="3.00" height="1.00" fill="#26a69a"/>
<rect x="74.00" y="479.17" width="1.00" height="2.60" fill="#ef5350"/>
<rect x="73.00" y="479.40" width="3.00" height="1.00" fill="#ef5350"/>
<rect x="71.00" y="475.37" width="1.00" height="5.47" fill="#ef5350"/>
<rect x="70.00" y="479.15" width="3.00" height="1.00" fill="#ef5350"/>
<rect x="68.00" y="479.05" width="1.00" height="4.00" fill="#26a69a"/>
<rect x="67.00" y="479.60" width="3.00" height="2.70" fill="#26a69a"/>
<rect x="68.00" y="480.60" width="1.00" height="0.70" fill="#4caf50"/>
<rect x="65.00" y="480.35" width="1.00" height="11.65" fill="#ef5350"/>
<rect x="64.00" y="481.50" width="3.00" height="1.00" fill="#ef5350"/>
<rect x="62.00" y="478.53" width="1.00" height="3.44" fill="#ef5350"/>
<rect x="61.00" y="480.00" width="3.00" height="1.00" fill="#ef5350"/>
<rect x="58.00" y="469.30" width="1.00" height="21.02" fill="#26a69a"/>
<rect x="57.00" y="480.40" width="3.00" height="8.30" fill="#26a69a"/>
<rect x="58.00" y="481.40" width="1.00" height="6.30" fill="#4caf50"/>
<rect x="55.00" y="485.92" width="1.00" height="1.74" fill="#ef5350"/>
<rect x="54.00" y="486.00" width="3.00" height="1.50" fill="#ef5350"/>
<rect x="52.00" y="483.97" width="1.00" height="8.63" fill="#ef5350"/>
<rect x="51.00" y="484.30" width="3.00" height="2.80" fill="#ef5350"/>
<rect x="52.00" y="485.30" width="1.00" height="0.80" fill="#f77c80"/>
<rect x="49.00" y="469.33" width="1.00" height="16.08" fill="#ef5350"/>
<rect x="48.00" y="472.00" width="3.00" height="12.70" fill="#ef5350"/>
<rect x="49.00" y="473.00" width="1.00" height="10.70" fill="#f77c80"/>
<rect x="46.00" y="467.30" width="1.00" height="26.10" fill="#26a69a"/>
<rect x="45.00" y="472.00" width="3.00" height="17.50" fill="#26a69a"/>
<rect x="46.00" y="473.00" width="1.00" height="15.50" fill="#4caf50"/>
<rect x="42.00" y="455.40" width="1.00" height="40.40" fill="#ef5350"/>
<rect x="41.00" y="467.30" width="3.00" height="22.20" fill="#ef5350"/>
<rect x="42.00" y="468.30" width="1.00" height="20.20" fill="#f77c80"/>
<rect x="39.00" y="461.00" width="1.00" height="10.59" fill="#ef5350"/>
<rect x="38.00" y="465.30" width="3.00" height="5.10" fill="#ef5350"/>
<rect x="39.00" y="466.30" width="1.00" height="3.10" fill="#f77c80"/>
<rect x="36.00" y="456.20" width="1.00" height="11.82" fill="#26a69a"/>
<rect x="35.00" y="465.30" width="3.00" height="2.70" fill="#26a69a"/>
<rect x="36.00" y="466.30" width="1.00" height="0.70" fill="#4caf50"/>
<rect x="33.00" y="440.90" width="1.00" height="33.90" fill="#ef5350"/>
<rect x="32.00" y="441.10" width="3.00" height="26.20" fill="#ef5350"/>
<rect x="33.00" y="442.10" width="1.00" height="24.20" fill="#f77c80"/>
<rect x="30.00" y="437.10" width="1.00" height="36.42" fill="#26a69a"/>
<rect x="29.00" y="441.10" width="3.00" height="31.30" fill="#26a69a"/>
<rect x="30.00" y="442.10" width="1.00" height="29.30" fill="#4caf50"/>
<rect x="27.00" y="464.90" width="1.00" height="12.70" fill="#26a69a"/>
<rect x="26.00" y="472.40" width="3.00" height="3.20" fill="#26a69a"/>
<rect x="27.00" y="473.40" width="1.00" height="1.20" fill="#4caf50"/>
<rect x="23.00" y="468.00" width="1.00" height="13.05" fill="#26a69a"/>
<rect x="22.00" y="475.20" width="3.00" height="4.40" fill="#26a69a"/>
<rect x="23.00" y="476.20" width="1.00" height="2.40" fill="#4caf50"/>
<rect x="20.00" y="476.00" width="1.00" height="14.70" fill="#26a69a"/>
<rect x="19.00" y="479.60" width="3.00" height="5.90" fill="#26a69a"/>
<rect x="20.00" y="480.60" width="1.00" height="3.90" fill="#4caf50"/>
<rect x="17.00" y="470.06" width="1.00" height="17.68" fill="#ef5350"/>
<rect x="16.00" y="472.40" width="3.00" height="13.10" fill="#ef5350"/>
<rect x="17.00" y="473.40" width="1.00" height="11.10" fill="#f77c80"/>
<rect x="14.00" y="470.40" width="1.00" height="16.30" fill="#26a69a"/>
<rect x="13.00" y="472.40" width="3.00" height="2.00" fill="#26a69a"/>
<rect x="11.00" y="455.35" width="1.00" height="20.85" fill="#ef5350"/>
<rect x="10.00" y="456.20" width="3.00" height="18.20" fill="#ef5350"/>
<rect x="11.00" y="457.20" width="1.00" height="16.20" fill="#f77c80"/>
</g>
<g>
<rect x="1506.40" y="474.40" width="2.40" height="3.40" fill="rgba(41,98,255,0.46)"/>
<rect x="1516.00" y="471.00" width="3.00" height="9.30" fill="rgba(41,98,255,0.46)"/>
<rect x="1519.00" y="469.30" width="3.00" height="3.40" fill="rgba(41,98,255,0.46)"/>
<rect x="1529.00" y="472.30" width="3.30" height="2.10" fill="rgba(41,98,255,0.46)"/>
<rect x="1535.30" y="468.40" width="2.30" height="2.60" fill="rgba(41,98,255,0.46)"/>
<rect x="1537.40" y="470.00" width="3.40" height="3.50" fill="rgba(41,98,255,0.46)"/>
<rect x="1541.20" y="461.20" width="2.60" height="9.40" fill="rgba(41,98,255,0.46)"/>
<rect x="1545.00" y="452.70" width="3.30" height="13.20" fill="rgba(41,98,255,0.46)"/>
<rect x="1548.30" y="386.30" width="2.90" height="66.40" fill="rgba(41,98,255,0.46)"/>
<rect x="1551.20" y="366.00" width="3.00" height="45.30" fill="rgba(41,98,255,0.46)"/>
<rect x="1554.00" y="373.80" width="3.00" height="23.20" fill="rgba(41,98,255,0.46)"/>
<rect x="1557.00" y="395.00" width="3.00" height="22.00" fill="rgba(41,98,255,0.46)"/>
<rect x="1560.80" y="397.00" width="3.40" height="19.00" fill="rgba(41,98,255,0.46)"/>
<rect x="1564.20" y="400.80" width="5.20" height="6.70" fill="rgba(41,98,255,0.46)"/>
<rect x="1567.20" y="362.30" width="3.00" height="45.70" fill="rgba(41,98,255,0.46)"/>
<rect x="1570.00" y="348.80" width="2.70" height="32.70" fill="rgba(41,98,255,0.46)"/>
<rect x="1572.70" y="361.30" width="3.10" height="30.70" fill="rgba(41,98,255,0.46)"/>
<rect x="1577.10" y="319.00" width="3.10" height="66.40" fill="rgba(41,98,255,0.46)"/>
<rect x="1580.20" y="277.30" width="2.90" height="67.70" fill="rgba(41,98,255,0.46)"/>
<rect x="1583.10" y="248.40" width="3.00" height="71.40" fill="rgba(41,98,255,0.46)"/>
<rect x="1586.10" y="213.00" width="2.90" height="82.00" fill="rgba(41,98,255,0.46)"/>
</g>
<g shape-rendering="crispEdges">
<rect x="1507.00" y="469.77" width="3.00" height="7.55" fill="rgba(38,166,154,0.5)"/>
<rect x="1508.00" y="475.32" width="3.00" height="7.12" fill="rgba(38,166,154,0.5)"/>
<rect x="1510.00" y="475.39" width="3.00" height="6.96" fill="rgba(38,166,154,0.5)"/>
<rect x="1511.00" y="476.82" width="3.00" height="6.46" fill="rgba(38,166,154,0.5)"/>
<rect x="1513.00" y="476.40" width="3.00" height="6.18" fill="rgba(38,166,154,0.5)"/>
<rect x="1514.00" y="480.37" width="3.00" height="6.22" fill="rgba(38,166,154,0.5)"/>
<rect x="1515.00" y="479.74" width="3.00" height="7.07" fill="rgba(38,166,154,0.5)"/>
<rect x="1517.00" y="480.08" width="3.00" height="4.39" fill="rgba(38,166,154,0.5)"/>
<rect x="1519.00" y="479.86" width="3.00" height="4.66" fill="rgba(38,166,154,0.5)"/>
<rect x="1520.00" y="470.70" width="3.00" height="9.22" fill="rgba(38,166,154,0.5)"/>
<rect x="1522.00" y="470.18" width="3.00" height="9.92" fill="rgba(38,166,154,0.5)"/>
<rect x="1522.00" y="471.18" width="3.00" height="2.50" fill="rgba(38,166,154,0.5)"/>
<rect x="1525.00" y="467.48" width="3.00" height="5.06" fill="rgba(38,166,154,0.5)"/>
<rect x="1526.00" y="467.61" width="3.00" height="4.75" fill="rgba(38,166,154,0.5)"/>
<rect x="1527.00" y="468.43" width="3.00" height="11.06" fill="rgba(38,166,154,0.5)"/>
<rect x="1529.00" y="469.05" width="3.00" height="9.84" fill="rgba(38,166,154,0.5)"/>
<rect x="1530.00" y="472.91" width="3.00" height="5.59" fill="rgba(38,166,154,0.5)"/>
<rect x="1531.00" y="472.94" width="3.00" height="5.43" fill="rgba(38,166,154,0.5)"/>
<rect x="1532.00" y="471.42" width="3.00" height="3.78" fill="rgba(38,166,154,0.5)"/>
<rect x="1534.00" y="471.38" width="3.00" height="3.40" fill="rgba(38,166,154,0.5)"/>
<rect x="1536.00" y="471.07" width="3.00" height="4.37" fill="rgba(38,166,154,0.5)"/>
<rect x="1537.00" y="471.43" width="3.00" height="4.03" fill="rgba(38,166,154,0.5)"/>
<rect x="1539.00" y="474.55" width="3.00" height="3.87" fill="rgba(38,166,154,0.5)"/>
<rect x="1541.00" y="474.60" width="3.00" height="3.50" fill="rgba(38,166,154,0.5)"/>
<rect x="1542.00" y="476.17" width="3.00" height="7.18" fill="rgba(38,166,154,0.5)"/>
<rect x="1544.00" y="479.76" width="3.00" height="4.67" fill="rgba(38,166,154,0.5)"/>
<rect x="1546.00" y="479.53" width="3.00" height="5.01" fill="rgba(38,166,154,0.5)"/>
<rect x="1548.00" y="476.77" width="3.00" height="6.66" fill="rgba(38,166,154,0.5)"/>
<rect x="1549.00" y="476.86" width="3.00" height="6.61" fill="rgba(38,166,154,0.5)"/>
<rect x="1551.00" y="469.65" width="3.00" height="9.97" fill="rgba(38,166,154,0.5)"/>
<rect x="1553.00" y="469.55" width="3.00" height="10.26" fill="rgba(38,166,154,0.5)"/>
<rect x="1554.00" y="455.55" width="3.00" height="17.30" fill="rgba(38,166,154,0.5)"/>
<rect x="1556.00" y="455.16" width="3.00" height="18.36" fill="rgba(38,166,154,0.5)"/>
<rect x="1557.00" y="452.52" width="3.00" height="7.93" fill="rgba(38,166,154,0.5)"/>
<rect x="1559.00" y="452.07" width="3.00" height="8.65" fill="rgba(38,166,154,0.5)"/>
<rect x="1560.00" y="452.76" width="3.00" height="8.88" fill="rgba(38,166,154,0.5)"/>
<rect x="1561.00" y="453.23" width="3.00" height="8.38" fill="rgba(38,166,154,0.5)"/>
<rect x="1562.00" y="455.58" width="3.00" height="18.12" fill="rgba(38,166,154,0.5)"/>
<rect x="1564.00" y="454.12" width="3.00" height="18.01" fill="rgba(38,166,154,0.5)"/>
<rect x="1565.00" y="466.03" width="3.00" height="7.89" fill="rgba(38,166,154,0.5)"/>
<rect x="1566.00" y="466.25" width="3.00" height="7.85" fill="rgba(38,166,154,0.5)"/>
<rect x="1567.00" y="471.41" width="3.00" height="3.65" fill="rgba(38,166,154,0.5)"/>
<rect x="1569.00" y="471.14" width="3.00" height="4.09" fill="rgba(38,166,154,0.5)"/>
<rect x="1570.00" y="458.66" width="3.00" height="11.48" fill="rgba(38,166,154,0.5)"/>
<rect x="1572.00" y="458.81" width="3.00" height="11.94" fill="rgba(38,166,154,0.5)"/>
<rect x="1573.00" y="458.35" width="3.00" height="7.36" fill="rgba(38,166,154,0.5)"/>
<rect x="1575.00" y="459.04" width="3.00" height="6.40" fill="rgba(38,166,154,0.5)"/>
<rect x="1576.00" y="458.40" width="3.00" height="6.66" fill="rgba(38,166,154,0.5)"/>
<rect x="1577.00" y="466.92" width="3.00" height="7.02" fill="rgba(38,166,154,0.5)"/>
<rect x="1579.00" y="466.04" width="3.00" height="8.16" fill="rgba(38,166,154,0.5)"/>
<rect x="1580.00" y="459.12" width="3.00" height="10.52" fill="rgba(38,166,154,0.5)"/>
<rect x="1582.00" y="459.12" width="3.00" height="10.66" fill="rgba(38,166,154,0.5)"/>
<rect x="1584.00" y="459.34" width="3.00" height="10.00" fill="rgba(38,166,154,0.5)"/>
<rect x="1585.00" y="460.35" width="3.00" height="2.65" fill="rgba(38,166,154,0.5)"/>
<rect x="1587.00" y="460.16" width="3.00" height="2.97" fill="rgba(38,166,154,0.5)"/>
<rect x="1588.00" y="460.21" width="3.00" height="2.94" fill="rgba(38,166,154,0.5)"/>
<rect x="1590.00" y="457.54" width="3.00" height="3.24" fill="rgba(38,166,154,0.5)"/>
<rect x="1592.00" y="457.51" width="3.00" height="2.89" fill="rgba(38,166,154,0.5)"/>
<rect x="1593.00" y="457.45" width="3.00" height="3.14" fill="rgba(38,166,154,0.5)"/>
<rect x="1595.00" y="457.66" width="3.00" height="2.79" fill="rgba(38,166,154,0.5)"/>
<rect x="1597.00" y="432.65" width="3.00" height="23.54" fill="rgba(38,166,154,0.5)"/>
<rect x="1598.00" y="432.75" width="3.00" height="23.06" fill="rgba(38,166,154,0.5)"/>
<rect x="1600.00" y="424.07" width="3.00" height="16.64" fill="rgba(38,166,154,0.5)"/>
<rect x="1602.00" y="425.04" width="3.00" height="15.87" fill="rgba(38,166,154,0.5)"/>
<rect x="1604.00" y="425.05" width="3.00" height="17.88" fill="rgba(38,166,154,0.5)"/>
<rect x="1605.00" y="426.53" width="3.00" height="14.53" fill="rgba(38,166,154,0.5)"/>
<rect x="1607.00" y="417.29" width="3.00" height="19.81" fill="rgba(38,166,154,0.5)"/>
<rect x="1609.00" y="416.00" width="3.00" height="21.63" fill="rgba(38,166,154,0.5)"/>
<rect x="1610.00" y="429.14" width="3.00" height="12.32" fill="rgba(38,166,154,0.5)"/>
<rect x="1612.00" y="429.00" width="3.00" height="12.18" fill="rgba(38,166,154,0.5)"/>
<rect x="1614.00" y="435.50" width="3.00" height="6.41" fill="rgba(38,166,154,0.5)"/>
<rect x="1616.00" y="435.42" width="3.00" height="6.16" fill="rgba(38,166,154,0.5)"/>
<rect x="1617.00" y="437.42" width="3.00" height="9.10" fill="rgba(38,166,154,0.5)"/>
<rect x="1619.00" y="437.48" width="3.00" height="9.44" fill="rgba(38,166,154,0.5)"/>
<rect x="1621.00" y="446.44" width="3.00" height="8.70" fill="rgba(38,166,154,0.5)"/>
<rect x="1622.00" y="446.18" width="3.00" height="9.48" fill="rgba(38,166,154,0.5)"/>
<rect x="1624.00" y="444.59" width="3.00" height="12.03" fill="rgba(38,166,154,0.5)"/>
<rect x="1626.00" y="444.81" width="3.00" height="11.13" fill="rgba(38,166,154,0.5)"/>
<rect x="1627.00" y="435.72" width="3.00" height="10.81" fill="rgba(38,166,154,0.5)"/>
<rect x="1629.00" y="435.64" width="3.00" height="10.19" fill="rgba(38,166,154,0.5)"/>
<rect x="1631.00" y="441.32" width="3.00" height="14.17" fill="rgba(38,166,154,0.5)"/>
<rect x="1632.00" y="440.13" width="3.00" height="14.58" fill="rgba(38,166,154,0.5)"/>
<rect x="1634.00" y="447.09" width="3.00" height="20.06" fill="rgba(38,166,154,0.5)"/>
<rect x="1636.00" y="446.11" width="3.00" height="20.45" fill="rgba(38,166,154,0.5)"/>
<rect x="1638.00" y="432.02" width="3.00" height="16.36" fill="rgba(38,166,154,0.5)"/>
<rect x="1639.00" y="432.94" width="3.00" height="14.10" fill="rgba(38,166,154,0.5)"/>
<rect x="1641.00" y="409.28" width="3.00" height="24.09" fill="rgba(38,166,154,0.5)"/>
<rect x="1643.00" y="408.68" width="3.00" height="26.99" fill="rgba(38,166,154,0.5)"/>
<rect x="1644.00" y="398.80" width="3.00" height="23.09" fill="rgba(38,166,154,0.5)"/>
<rect x="1646.00" y="400.28" width="3.00" height="23.72" fill="rgba(38,166,154,0.5)"/>
<rect x="1648.00" y="411.57" width="3.00" height="23.44" fill="rgba(38,166,154,0.5)"/>
<rect x="1650.00" y="413.52" width="3.00" height="21.72" fill="rgba(38,166,154,0.5)"/>
<rect x="1651.00" y="432.45" width="3.00" height="13.07" fill="rgba(38,166,154,0.5)"/>
<rect x="1653.00" y="433.63" width="3.00" height="12.67" fill="rgba(38,166,154,0.5)"/>
<rect x="1655.00" y="436.55" width="3.00" height="10.80" fill="rgba(38,166,154,0.5)"/>
<rect x="1656.00" y="437.07" width="3.00" height="9.80" fill="rgba(38,166,154,0.5)"/>
<rect x="1658.00" y="427.72" width="3.00" height="11.98" fill="rgba(38,166,154,0.5)"/>
<rect x="1660.00" y="428.61" width="3.00" height="11.57" fill="rgba(38,166,154,0.5)"/>
<rect x="1661.00" y="416.34" width="3.00" height="11.77" fill="rgba(38,166,154,0.5)"/>
<rect x="1663.00" y="416.51" width="3.00" height="11.84" fill="rgba(38,166,154,0.5)"/>
<rect x="1665.00" y="391.69" width="3.00" height="23.64" fill="rgba(38,166,154,0.5)"/>
<rect x="1667.00" y="338.02" width="3.00" height="57.64" fill="rgba(38,166,154,0.5)"/>
<rect x="1669.00" y="339.54" width="3.00" height="54.53" fill="rgba(38,166,154,0.5)"/>
<rect x="1669.00" y="292.42" width="3.00" height="47.44" fill="rgba(38,166,154,0.5)"/>
</g>
<line x1="579.5" y1="486" x2="1757" y2="486" stroke="#089981" stroke-width="2"/>
<g stroke="#e4004b" stroke-width="2" stroke-dasharray="2 4">
<line x1="413" y1="419" x2="1757" y2="419"/>
<line x1="1264" y1="363" x2="1757" y2="363"/>
</g>
<g stroke="#8a8d97" stroke-width="1.3" fill="none">
<line x1="412.5" y1="452.4" x2="578.5" y2="452.4"/>
<polyline points="573.5,447.5 578.5,452.4 573.5,457.3"/>
<line x1="495.2" y1="419" x2="495.2" y2="484.5"/>
<polyline points="490.3,479.6 495.2,484.5 500.1,479.6"/>
<line x1="1261" y1="417.3" x2="1504" y2="417.3"/>
<polyline points="1499,412.4 1504,417.3 1499,422.2"/>
<line x1="1382.4" y1="363.5" x2="1382.4" y2="469.5"/>
<polyline points="1377.5,464.6 1382.4,469.5 1387.3,464.6"/>
</g>
<g stroke="#9c27b0" stroke-width="2.1" fill="none" stroke-linecap="round">
<path d="M461.6,423.2 C466,414 474,409.6 482,409.6 C490,409.6 498,414 502.1,422"/>
<path d="M521.8,424.9 C535,426 545,428 549,430 C555,432 558,434 561.4,436.2 C566,440 571,444 575,448.7 C579,454 582,458 585.2,463.4"/>
<path d="M1292.9,366 C1302,356 1313,345 1324.6,344.5 C1335,344.5 1343,355 1343.9,367.2"/>
<path d="M1374.9,365.7 C1379.6,366.8 1395.4,370.0 1402.9,372.5 C1410.4,375.0 1414.2,378.2 1419.9,380.9 C1425.6,383.6 1431.2,386.3 1436.9,388.6 C1442.6,390.9 1448.2,392.4 1453.9,394.5 C1459.6,396.6 1466.7,399.4 1470.9,401.3 C1475.2,403.2 1476.0,403.6 1479.4,405.6 C1482.8,407.6 1487.6,410.2 1491.3,413.2 C1495.0,416.2 1498.4,420.0 1501.5,423.4 C1504.6,426.8 1506.9,429.6 1509.9,433.6 C1512.9,437.6 1517.7,444.9 1519.3,447.2"/>
</g>
<text x="423.7" y="511.1" fill="#131722" textLength="142.3" lengthAdjust="spacingAndGlyphs">−0.02255 (−56.28%) −2,255</text>
<text x="459" y="530.7" fill="#131722" textLength="71.7" lengthAdjust="spacingAndGlyphs">52 bars, 364d</text>
<text x="1311.1" y="495.6" fill="#131722" textLength="141.8" lengthAdjust="spacingAndGlyphs">−0.03629 (−61.62%) −3,629</text>
<text x="1346.3" y="515.5" fill="#131722" textLength="70.9" lengthAdjust="spacingAndGlyphs">76 bars, 532d</text>
<g transform="translate(1504.5,545.5)">
<circle r="9.6" fill="#ffffff" stroke="#9c27b0" stroke-width="1.6"/>
<path d="M3.9,-5.8 L-4.4,0.5 L-0.2,0.5 L-3.9,5.8 L4.4,-0.6 L0.2,-0.6 Z" fill="#9c27b0" stroke="#9c27b0" stroke-width="0.6" stroke-linejoin="round"/>
</g>
</g>
<!-- axes -->
<g stroke="#e0e1e5" stroke-width="1" shape-rendering="crispEdges">
<line x1="1757.5" y1="27" x2="1757.5" y2="847"/>
<line x1="10" y1="820.5" x2="1825" y2="820.5"/>
</g>
<line x1="10" y1="558.5" x2="1825" y2="558.5" stroke="#2a2e39" stroke-width="1" shape-rendering="crispEdges"/>
<g fill="#131722">
<text x="1766" y="73.2" textLength="42" lengthAdjust="spacingAndGlyphs">0.16000</text>
<text x="1766" y="132.2" textLength="42" lengthAdjust="spacingAndGlyphs">0.14000</text>
<text x="1766" y="190.2" textLength="42" lengthAdjust="spacingAndGlyphs">0.12000</text>
<text x="1766" y="248.2" textLength="42" lengthAdjust="spacingAndGlyphs">0.10000</text>
<text x="1766" y="307.2" textLength="42" lengthAdjust="spacingAndGlyphs">0.08000</text>
<text x="1766" y="540.0" textLength="48" lengthAdjust="spacingAndGlyphs">−0.00000</text>
<text x="1766.3" y="583.3" textLength="28.9" lengthAdjust="spacingAndGlyphs">90.00</text>
<text x="1766.3" y="616.3" textLength="28.9" lengthAdjust="spacingAndGlyphs">80.00</text>
<text x="1766.3" y="650.3" textLength="28.9" lengthAdjust="spacingAndGlyphs">70.00</text>
<text x="1766.3" y="683.3" textLength="28.9" lengthAdjust="spacingAndGlyphs">60.00</text>
<text x="1766.3" y="717.3" textLength="28.9" lengthAdjust="spacingAndGlyphs">50.00</text>
<text x="1766.3" y="751.3" textLength="28.9" lengthAdjust="spacingAndGlyphs">40.00</text>
<text x="1766.3" y="784.3" textLength="28.9" lengthAdjust="spacingAndGlyphs">30.00</text>
<text x="1766.3" y="818.3" textLength="28.9" lengthAdjust="spacingAndGlyphs">20.00</text>
<text x="52.5" y="838" text-anchor="middle" font-weight="normal">Jul</text>
<text x="135.5" y="838" text-anchor="middle" font-weight="bold">2017</text>
<text x="218.5" y="838" text-anchor="middle" font-weight="normal">Jul</text>
<text x="301.5" y="838" text-anchor="middle" font-weight="bold">2018</text>
<text x="384.5" y="838" text-anchor="middle" font-weight="normal">Jul</text>
<text x="470.5" y="838" text-anchor="middle" font-weight="bold">2019</text>
<text x="550.5" y="838" text-anchor="middle" font-weight="normal">Jul</text>
<text x="636.5" y="838" text-anchor="middle" font-weight="bold">2020</text>
<text x="719.5" y="838" text-anchor="middle" font-weight="normal">Jul</text>
<text x="802.5" y="838" text-anchor="middle" font-weight="bold">2021</text>
<text x="885.5" y="838" text-anchor="middle" font-weight="normal">Jul</text>
<text x="968.5" y="838" text-anchor="middle" font-weight="bold">2022</text>
<text x="1051.5" y="838" text-anchor="middle" font-weight="normal">Jul</text>
<text x="1134.5" y="838" text-anchor="middle" font-weight="bold">2023</text>
<text x="1217.5" y="838" text-anchor="middle" font-weight="normal">Jul</text>
<text x="1299.5" y="838" text-anchor="middle" font-weight="bold">2024</text>
<text x="1382.5" y="838" text-anchor="middle" font-weight="normal">Jul</text>
<text x="1469.5" y="838" text-anchor="middle" font-weight="bold">2025</text>
<text x="1552.5" y="838" text-anchor="middle" font-weight="normal">Jul</text>
<text x="1634.5" y="838" text-anchor="middle" font-weight="bold">2026</text>
<text x="1717.5" y="838" text-anchor="middle" font-weight="normal">Jul</text>
</g>
<rect x="1761.5" y="31.3" width="59.3" height="25.6" rx="4.5" fill="#ffffff" stroke="#eeeeee" stroke-width="1.5"/>
<text x="1770.7" y="48.9" fill="#131722" textLength="19.5" lengthAdjust="spacingAndGlyphs">BTC</text>
<!-- price labels -->
<path d="M1758.5,355.5 H1811.9 A2,2 0 0 1 1813.9,357.5 V369.8 A2,2 0 0 1 1811.9,371.8 H1758.5 Z" fill="#e91e63" stroke="#e4004b" stroke-width="1"/>
<text x="1766" y="368" fill="#ffffff" textLength="40.7" lengthAdjust="spacingAndGlyphs" stroke="#ffffff" stroke-width="0.3">0.05931</text>
<path d="M1758.5,411.2 H1811.9 A2,2 0 0 1 1813.9,413.2 V425.5 A2,2 0 0 1 1811.9,427.5 H1758.5 Z" fill="#e91e63" stroke="#e4004b" stroke-width="1"/>
<text x="1766" y="423.7" fill="#ffffff" textLength="40.7" lengthAdjust="spacingAndGlyphs" stroke="#ffffff" stroke-width="0.3">0.04010</text>
<path d="M1708,462.1 H1756.8 V478.7 H1708 A2,2 0 0 1 1706,476.7 V464.1 A2,2 0 0 1 1708,462.1 Z" fill="#f77c80"/>
<text x="1710.9" y="474.9" fill="#ffffff" textLength="41.9" lengthAdjust="spacingAndGlyphs">ETHBTC</text>
<path d="M1758,462.1 H1812 A2,2 0 0 1 1814,464.1 V490.7 A2,2 0 0 1 1812,492.7 H1758 Z" fill="#f77c80"/>
<text x="1766" y="474.7" fill="#ffffff" textLength="40.6" lengthAdjust="spacingAndGlyphs" stroke="#ffffff" stroke-width="0.3">0.02251</text>
<text x="1766.6" y="488.9" fill="#ffffff" fill-opacity="0.82" textLength="35" lengthAdjust="spacingAndGlyphs">1d 19h</text>
<path d="M1758,493.1 H1812 A2,2 0 0 1 1814,495.1 V507.8 A2,2 0 0 1 1812,509.8 H1758 Z" fill="#089981"/>
<text x="1766" y="505.6" fill="#ffffff" textLength="41.8" lengthAdjust="spacingAndGlyphs" stroke="#ffffff" stroke-width="0.3">0.01702</text>
<!-- legend -->
<text x="18" y="45.7" fill="#131722" textLength="188.3" lengthAdjust="spacingAndGlyphs">Ethereum / Bitcoin · 1W · BINANCE</text>
<text x="213.8" y="45.7" fill="#131722">O</text><text x="221.9" y="45.7" fill="#ef5350" textLength="41.2" lengthAdjust="spacingAndGlyphs">0.02331</text>
<text x="271.3" y="45.7" fill="#131722">H</text><text x="279.6" y="45.7" fill="#ef5350" textLength="41.2" lengthAdjust="spacingAndGlyphs">0.02406</text>
<text x="329" y="45.7" fill="#131722">L</text><text x="335.3" y="45.7" fill="#ef5350" textLength="41.2" lengthAdjust="spacingAndGlyphs">0.02192</text>
<text x="384.5" y="45.7" fill="#131722">C</text><text x="392.5" y="45.7" fill="#ef5350" textLength="41.2" lengthAdjust="spacingAndGlyphs">0.02251</text>
<text x="441.3" y="45.7" fill="#ef5350" textLength="96.7" lengthAdjust="spacingAndGlyphs">−0.00080 (−3.43%)</text>
<text x="18.3" y="578" fill="#131722" textLength="75.7" lengthAdjust="spacingAndGlyphs">RSI (14, close)</text>
<text x="101.7" y="578" fill="#7e57c2" textLength="29.1" lengthAdjust="spacingAndGlyphs">27.49</text>
<text x="138.6" y="578" fill="#fdd835" textLength="29.3" lengthAdjust="spacingAndGlyphs">33.00</text>
<!-- footer logo -->
<g fill="#dcdcdc">
<path d="M10,860.1 H17.8 V870 H13.8 V864 H10 Z"/>
<circle cx="21" cy="862.2" r="2.05"/>
<path d="M24.6,860.1 H29.8 L26.2,870 H21 Z"/>
<text x="32.6" y="869.8" font-size="12" font-weight="bold" textLength="70.6" lengthAdjust="spacingAndGlyphs">TradingView</text>
</g>
</svg>
</body></html>
